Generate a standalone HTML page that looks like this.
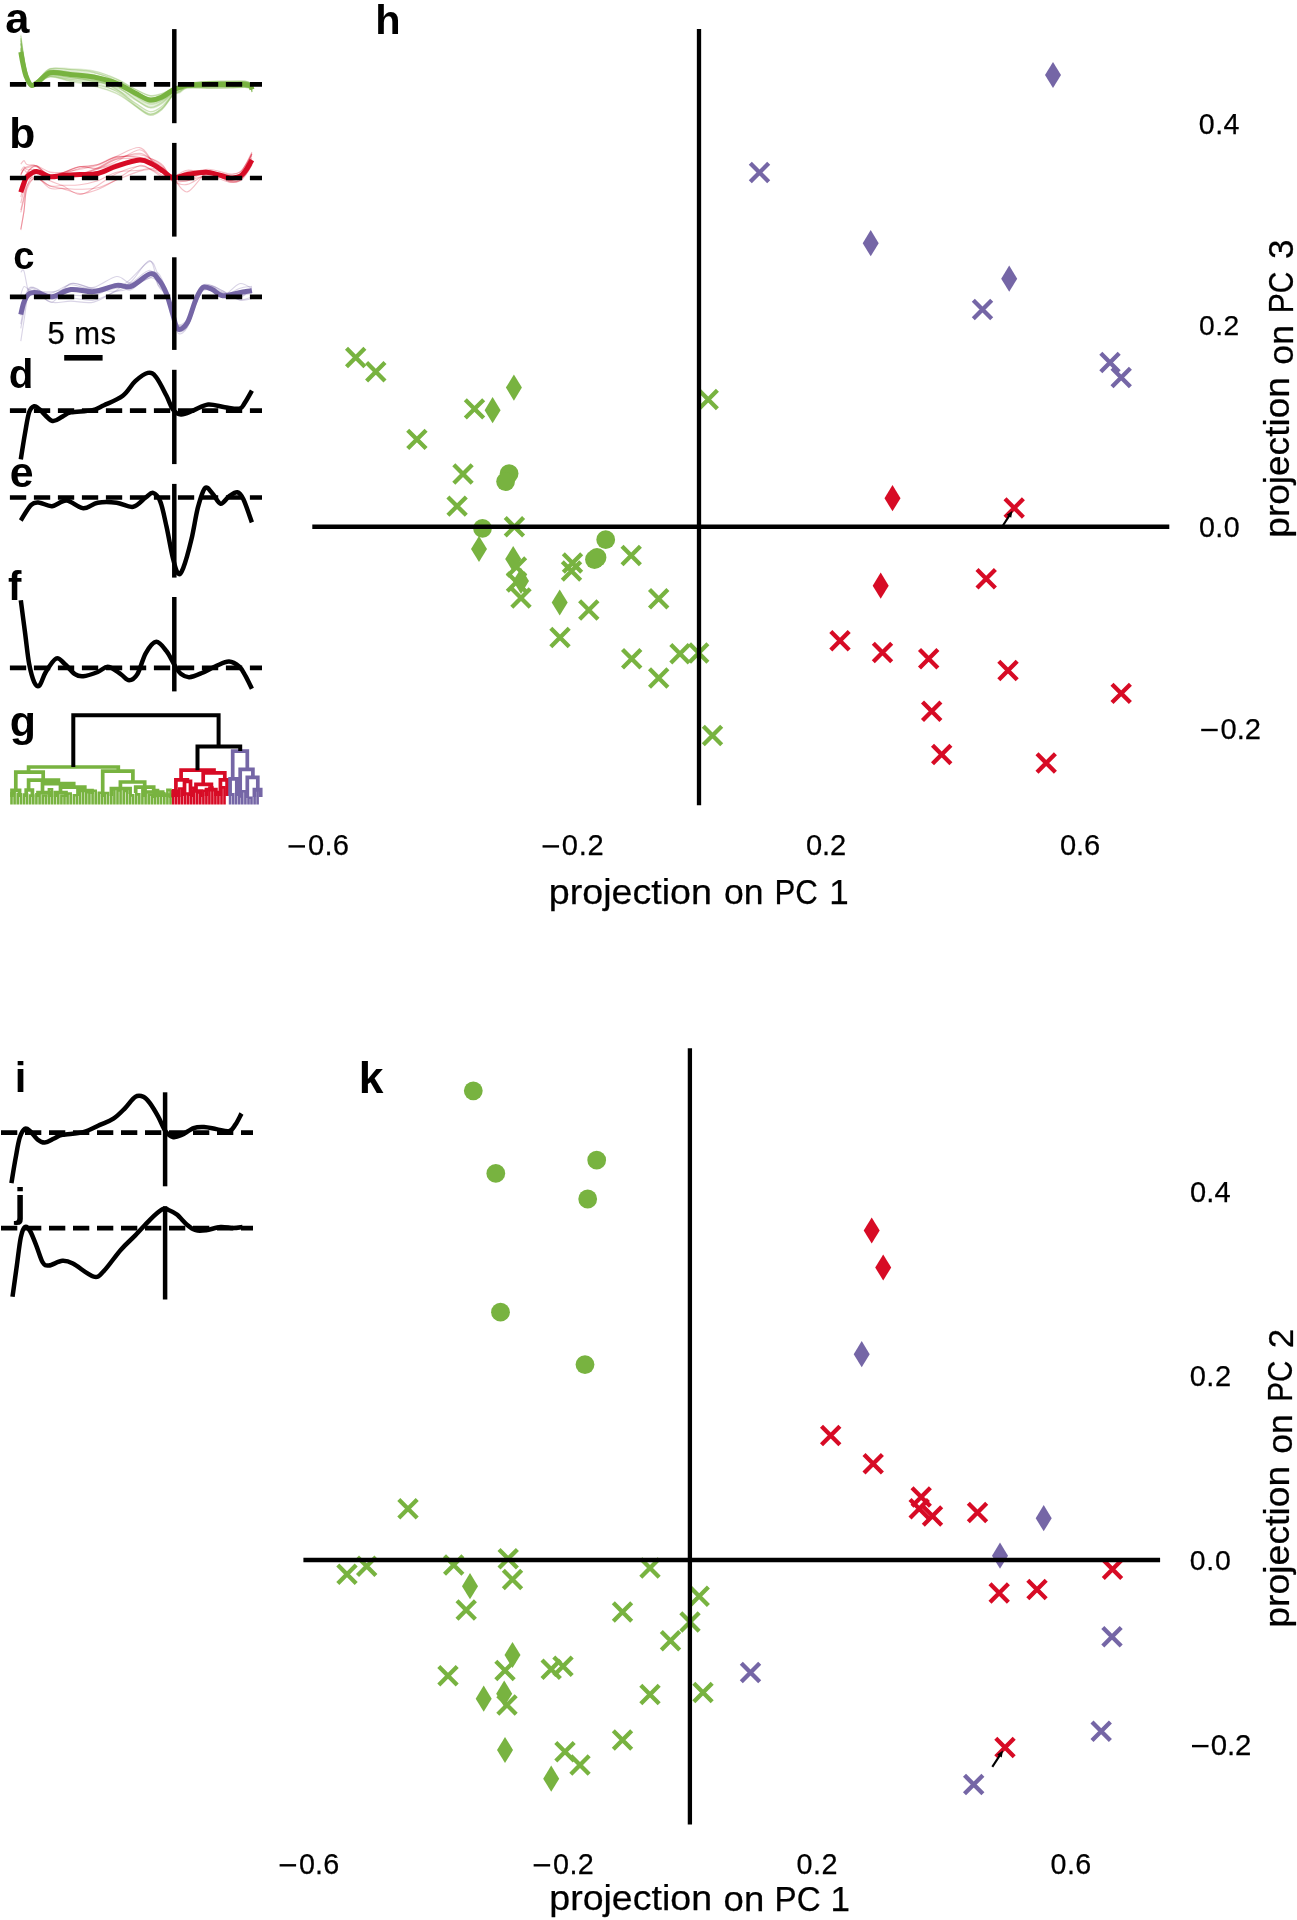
<!DOCTYPE html>
<html><head><meta charset="utf-8"><title>figure</title>
<style>html,body{margin:0;padding:0;background:#fff;}body{width:1297px;height:1920px;overflow:hidden;font-family:"Liberation Sans",sans-serif;}svg{display:block;will-change:transform;}</style>
</head><body>
<svg width="1297" height="1920" viewBox="0 0 1297 1920" font-family="Liberation Sans, sans-serif">
<rect width="1297" height="1920" fill="#fff"/>
<path d="M20.8,53.4 C21.2,55.3 22.1,61.2 23.0,65.0 C23.9,68.8 24.6,73.1 26.0,76.3 C27.4,79.5 29.2,83.7 31.2,84.4 C33.2,85.2 34.9,83.3 38.0,81.0 C41.1,78.7 44.7,72.0 50.0,70.6 C55.3,69.2 62.7,71.8 70.0,72.7 C77.3,73.6 85.9,74.0 93.7,76.2 C101.5,78.4 109.7,82.0 116.6,85.9 C123.5,89.7 129.4,95.6 135.0,99.3 C140.6,103.0 145.5,107.3 150.0,108.0 C154.5,108.8 158.2,106.3 162.0,103.8 C165.8,101.3 169.8,95.3 172.8,93.2 C175.8,91.1 177.6,92.0 180.0,91.1 C182.4,90.2 182.3,88.3 187.3,87.8 C192.3,87.3 202.9,88.2 210.0,88.2 C217.1,88.2 224.2,88.1 230.0,88.0 C235.8,87.9 241.6,87.3 245.0,87.4 C248.4,87.5 249.3,87.9 250.5,88.6 C251.7,89.4 251.8,91.5 252.0,92.1" fill="none" stroke="#78B340" stroke-width="1.2" stroke-opacity="0.22" stroke-linejoin="round"/>
<path d="M20.8,38.7 C21.2,41.2 22.1,48.6 23.0,53.9 C23.9,59.2 24.6,65.1 26.0,70.4 C27.4,75.8 29.2,83.8 31.2,85.9 C33.2,88.0 34.9,84.8 38.0,82.9 C41.1,81.0 44.7,75.5 50.0,74.7 C55.3,73.8 62.7,76.7 70.0,77.8 C77.3,78.9 85.9,79.5 93.7,81.2 C101.5,83.0 109.7,85.1 116.6,88.0 C123.5,90.9 129.4,95.5 135.0,98.6 C140.6,101.6 145.5,105.8 150.0,106.3 C154.5,106.9 158.2,104.3 162.0,101.9 C165.8,99.5 169.8,94.3 172.8,92.0 C175.8,89.7 177.6,89.3 180.0,88.1 C182.4,86.8 182.3,85.3 187.3,84.4 C192.3,83.5 202.9,83.1 210.0,82.8 C217.1,82.5 224.2,82.7 230.0,82.7 C235.8,82.6 241.6,82.3 245.0,82.6 C248.4,82.8 249.3,83.5 250.5,84.4 C251.7,85.3 251.8,87.3 252.0,87.9" fill="none" stroke="#78B340" stroke-width="1.2" stroke-opacity="0.22" stroke-linejoin="round"/>
<path d="M20.8,54.4 C21.2,56.3 22.1,62.1 23.0,65.9 C23.9,69.7 24.6,73.9 26.0,77.3 C27.4,80.6 29.2,85.0 31.2,85.9 C33.2,86.8 34.9,84.7 38.0,82.8 C41.1,80.9 44.7,75.6 50.0,74.6 C55.3,73.6 62.7,76.2 70.0,77.0 C77.3,77.9 85.9,78.5 93.7,79.9 C101.5,81.4 109.7,83.2 116.6,85.8 C123.5,88.3 129.4,92.4 135.0,95.1 C140.6,97.9 145.5,101.6 150.0,102.2 C154.5,102.8 158.2,100.5 162.0,98.6 C165.8,96.6 169.8,92.5 172.8,90.6 C175.8,88.6 177.6,88.1 180.0,87.1 C182.4,86.0 182.3,84.8 187.3,84.1 C192.3,83.4 202.9,82.9 210.0,82.7 C217.1,82.4 224.2,82.6 230.0,82.6 C235.8,82.6 241.6,82.2 245.0,82.5 C248.4,82.8 249.3,83.5 250.5,84.4 C251.7,85.3 251.8,87.3 252.0,87.9" fill="none" stroke="#78B340" stroke-width="1.2" stroke-opacity="0.22" stroke-linejoin="round"/>
<path d="M20.8,50.2 C21.2,52.2 22.1,58.4 23.0,62.5 C23.9,66.6 24.6,71.2 26.0,74.8 C27.4,78.4 29.2,83.2 31.2,84.1 C33.2,85.0 34.9,82.8 38.0,80.4 C41.1,78.0 44.7,71.4 50.0,69.6 C55.3,67.7 62.7,69.3 70.0,69.6 C77.3,69.9 85.9,69.8 93.7,71.4 C101.5,72.9 109.7,75.8 116.6,78.8 C123.5,81.7 129.4,86.4 135.0,89.3 C140.6,92.2 145.5,95.3 150.0,96.2 C154.5,97.0 158.2,95.6 162.0,94.3 C165.8,93.1 169.8,90.2 172.8,88.7 C175.8,87.3 177.6,86.4 180.0,85.4 C182.4,84.5 182.3,83.9 187.3,83.2 C192.3,82.6 202.9,81.9 210.0,81.6 C217.1,81.3 224.2,81.7 230.0,81.7 C235.8,81.7 241.6,81.4 245.0,81.7 C248.4,82.1 249.3,82.8 250.5,83.7 C251.7,84.6 251.8,86.6 252.0,87.2" fill="none" stroke="#78B340" stroke-width="1.2" stroke-opacity="0.22" stroke-linejoin="round"/>
<path d="M20.8,47.4 C21.2,49.6 22.1,56.1 23.0,60.5 C23.9,64.9 24.6,69.8 26.0,74.0 C27.4,78.1 29.2,83.9 31.2,85.2 C33.2,86.6 34.9,84.0 38.0,81.9 C41.1,79.9 44.7,73.9 50.0,72.7 C55.3,71.5 62.7,74.0 70.0,74.8 C77.3,75.7 85.9,76.1 93.7,77.8 C101.5,79.5 109.7,82.1 116.6,85.1 C123.5,88.1 129.4,92.9 135.0,96.0 C140.6,99.1 145.5,102.9 150.0,103.6 C154.5,104.3 158.2,102.0 162.0,99.9 C165.8,97.9 169.8,93.3 172.8,91.2 C175.8,89.2 177.6,88.9 180.0,87.8 C182.4,86.8 182.3,85.4 187.3,84.7 C192.3,84.0 202.9,83.7 210.0,83.5 C217.1,83.3 224.2,83.5 230.0,83.4 C235.8,83.4 241.6,83.0 245.0,83.3 C248.4,83.5 249.3,84.1 250.5,85.0 C251.7,85.9 251.8,87.9 252.0,88.5" fill="none" stroke="#78B340" stroke-width="1.2" stroke-opacity="0.22" stroke-linejoin="round"/>
<path d="M20.8,40.4 C21.2,42.8 22.1,50.1 23.0,55.1 C23.9,60.1 24.6,65.7 26.0,70.6 C27.4,75.5 29.2,82.7 31.2,84.4 C33.2,86.1 34.9,83.2 38.0,80.9 C41.1,78.5 44.7,71.9 50.0,70.4 C55.3,68.9 62.7,71.1 70.0,71.8 C77.3,72.5 85.9,72.8 93.7,74.7 C101.5,76.7 109.7,80.0 116.6,83.5 C123.5,87.0 129.4,92.5 135.0,95.9 C140.6,99.3 145.5,103.2 150.0,103.9 C154.5,104.7 158.2,102.6 162.0,100.5 C165.8,98.5 169.8,93.6 172.8,91.6 C175.8,89.6 177.6,89.4 180.0,88.4 C182.4,87.3 182.3,85.9 187.3,85.2 C192.3,84.5 202.9,84.5 210.0,84.3 C217.1,84.1 224.2,84.2 230.0,84.2 C235.8,84.1 241.6,83.7 245.0,84.0 C248.4,84.2 249.3,84.7 250.5,85.6 C251.7,86.5 251.8,88.5 252.0,89.1" fill="none" stroke="#78B340" stroke-width="1.2" stroke-opacity="0.22" stroke-linejoin="round"/>
<path d="M20.8,48.0 C21.2,50.1 22.1,56.6 23.0,61.0 C23.9,65.4 24.6,70.4 26.0,74.6 C27.4,78.8 29.2,84.8 31.2,86.2 C33.2,87.7 34.9,85.0 38.0,83.2 C41.1,81.4 44.7,76.4 50.0,75.4 C55.3,74.5 62.7,76.8 70.0,77.6 C77.3,78.3 85.9,78.8 93.7,80.0 C101.5,81.1 109.7,82.3 116.6,84.3 C123.5,86.3 129.4,89.7 135.0,92.0 C140.6,94.4 145.5,97.8 150.0,98.4 C154.5,98.9 158.2,96.9 162.0,95.3 C165.8,93.8 169.8,90.6 172.8,89.3 C175.8,88.0 177.6,88.1 180.0,87.5 C182.4,87.0 182.3,86.1 187.3,85.8 C192.3,85.5 202.9,85.8 210.0,85.8 C217.1,85.8 224.2,85.9 230.0,85.8 C235.8,85.8 241.6,85.4 245.0,85.6 C248.4,85.8 249.3,86.2 250.5,87.0 C251.7,87.8 251.8,89.9 252.0,90.5" fill="none" stroke="#78B340" stroke-width="1.2" stroke-opacity="0.22" stroke-linejoin="round"/>
<path d="M20.8,42.9 C21.2,45.2 22.1,52.2 23.0,57.1 C23.9,61.9 24.6,67.3 26.0,72.0 C27.4,76.7 29.2,83.6 31.2,85.3 C33.2,87.0 34.9,84.2 38.0,82.2 C41.1,80.2 44.7,73.9 50.0,73.0 C55.3,72.2 62.7,75.6 70.0,77.0 C77.3,78.4 85.9,79.2 93.7,81.7 C101.5,84.1 109.7,87.6 116.6,91.6 C123.5,95.7 129.4,101.9 135.0,105.9 C140.6,109.9 145.5,114.8 150.0,115.4 C154.5,116.0 158.2,112.8 162.0,109.5 C165.8,106.2 169.8,98.5 172.8,95.4 C175.8,92.4 177.6,92.5 180.0,90.9 C182.4,89.3 182.3,86.8 187.3,85.8 C192.3,84.7 202.9,84.7 210.0,84.4 C217.1,84.1 224.2,84.1 230.0,84.0 C235.8,83.9 241.6,83.4 245.0,83.6 C248.4,83.9 249.3,84.5 250.5,85.3 C251.7,86.2 251.8,88.2 252.0,88.8" fill="none" stroke="#78B340" stroke-width="1.2" stroke-opacity="0.22" stroke-linejoin="round"/>
<path d="M20.8,43.7 C21.2,46.1 22.1,52.9 23.0,57.8 C23.9,62.6 24.6,67.9 26.0,72.6 C27.4,77.3 29.2,84.2 31.2,85.9 C33.2,87.6 34.9,84.7 38.0,82.8 C41.1,81.0 44.7,75.5 50.0,74.6 C55.3,73.7 62.7,76.4 70.0,77.5 C77.3,78.5 85.9,79.1 93.7,80.7 C101.5,82.3 109.7,84.4 116.6,87.2 C123.5,89.9 129.4,94.4 135.0,97.3 C140.6,100.3 145.5,104.3 150.0,104.9 C154.5,105.4 158.2,103.0 162.0,100.7 C165.8,98.5 169.8,93.7 172.8,91.4 C175.8,89.2 177.6,88.4 180.0,87.1 C182.4,85.7 182.3,84.4 187.3,83.4 C192.3,82.5 202.9,81.7 210.0,81.3 C217.1,81.0 224.2,81.2 230.0,81.2 C235.8,81.2 241.6,80.9 245.0,81.2 C248.4,81.5 249.3,82.3 250.5,83.2 C251.7,84.1 251.8,86.1 252.0,86.7" fill="none" stroke="#78B340" stroke-width="1.2" stroke-opacity="0.22" stroke-linejoin="round"/>
<path d="M20.8,48.8 C21.2,50.9 22.1,57.3 23.0,61.5 C23.9,65.8 24.6,70.6 26.0,74.5 C27.4,78.4 29.2,83.7 31.2,84.9 C33.2,86.1 34.9,83.8 38.0,81.6 C41.1,79.4 44.7,73.1 50.0,71.9 C55.3,70.7 62.7,73.3 70.0,74.3 C77.3,75.3 85.9,75.7 93.7,77.8 C101.5,79.8 109.7,82.9 116.6,86.4 C123.5,89.9 129.4,95.4 135.0,98.9 C140.6,102.4 145.5,106.6 150.0,107.3 C154.5,107.9 158.2,105.5 162.0,103.0 C165.8,100.6 169.8,95.0 172.8,92.5 C175.8,90.0 177.6,89.3 180.0,87.8 C182.4,86.4 182.3,84.7 187.3,83.7 C192.3,82.6 202.9,81.9 210.0,81.5 C217.1,81.2 224.2,81.4 230.0,81.4 C235.8,81.3 241.6,81.0 245.0,81.3 C248.4,81.6 249.3,82.4 250.5,83.3 C251.7,84.2 251.8,86.2 252.0,86.8" fill="none" stroke="#78B340" stroke-width="1.2" stroke-opacity="0.22" stroke-linejoin="round"/>
<path d="M20.8,34.7 C21.2,37.4 22.1,45.2 23.0,50.9 C23.9,56.5 24.6,62.8 26.0,68.5 C27.4,74.2 29.2,83.1 31.2,85.3 C33.2,87.5 34.9,84.0 38.0,81.9 C41.1,79.9 44.7,74.2 50.0,72.9 C55.3,71.5 62.7,73.3 70.0,73.8 C77.3,74.2 85.9,74.4 93.7,75.6 C101.5,76.8 109.7,78.6 116.6,80.9 C123.5,83.1 129.4,86.8 135.0,89.2 C140.6,91.7 145.5,94.8 150.0,95.5 C154.5,96.2 158.2,94.6 162.0,93.4 C165.8,92.1 169.8,89.6 172.8,88.3 C175.8,86.9 177.6,86.1 180.0,85.3 C182.4,84.5 182.3,84.0 187.3,83.4 C192.3,82.9 202.9,82.2 210.0,82.0 C217.1,81.8 224.2,82.1 230.0,82.1 C235.8,82.1 241.6,81.8 245.0,82.1 C248.4,82.5 249.3,83.1 250.5,84.0 C251.7,84.9 251.8,87.0 252.0,87.6" fill="none" stroke="#78B340" stroke-width="1.2" stroke-opacity="0.22" stroke-linejoin="round"/>
<path d="M20.8,48.4 C21.2,50.5 22.1,56.9 23.0,61.1 C23.9,65.4 24.6,70.1 26.0,73.9 C27.4,77.6 29.2,82.7 31.2,83.8 C33.2,84.8 34.9,82.5 38.0,80.0 C41.1,77.5 44.7,70.5 50.0,68.6 C55.3,66.7 62.7,68.3 70.0,68.7 C77.3,69.0 85.9,69.0 93.7,70.8 C101.5,72.5 109.7,75.9 116.6,79.3 C123.5,82.7 129.4,87.8 135.0,91.0 C140.6,94.2 145.5,97.6 150.0,98.5 C154.5,99.4 158.2,97.8 162.0,96.3 C165.8,94.8 169.8,91.3 172.8,89.7 C175.8,88.0 177.6,87.3 180.0,86.3 C182.4,85.3 182.3,84.4 187.3,83.7 C192.3,83.0 202.9,82.4 210.0,82.1 C217.1,81.9 224.2,82.1 230.0,82.1 C235.8,82.1 241.6,81.8 245.0,82.1 C248.4,82.4 249.3,83.1 250.5,84.0 C251.7,84.9 251.8,87.0 252.0,87.5" fill="none" stroke="#78B340" stroke-width="1.2" stroke-opacity="0.22" stroke-linejoin="round"/>
<path d="M20.8,44.0 C21.2,46.3 22.1,53.1 23.0,57.9 C23.9,62.6 24.6,67.9 26.0,72.4 C27.4,77.0 29.2,83.5 31.2,85.1 C33.2,86.7 34.9,84.0 38.0,81.9 C41.1,79.8 44.7,73.5 50.0,72.4 C55.3,71.4 62.7,74.4 70.0,75.7 C77.3,76.9 85.9,77.5 93.7,79.8 C101.5,82.1 109.7,85.4 116.6,89.2 C123.5,93.1 129.4,99.0 135.0,102.8 C140.6,106.5 145.5,111.1 150.0,111.8 C154.5,112.4 158.2,109.5 162.0,106.6 C165.8,103.7 169.8,96.9 172.8,94.3 C175.8,91.7 177.6,92.2 180.0,90.9 C182.4,89.6 182.3,87.5 187.3,86.7 C192.3,85.9 202.9,86.3 210.0,86.1 C217.1,86.0 224.2,86.0 230.0,85.8 C235.8,85.7 241.6,85.2 245.0,85.4 C248.4,85.6 249.3,86.0 250.5,86.9 C251.7,87.7 251.8,89.8 252.0,90.4" fill="none" stroke="#78B340" stroke-width="1.2" stroke-opacity="0.22" stroke-linejoin="round"/>
<path d="M20.8,52.3 C21.2,54.3 22.1,60.2 23.0,64.3 C23.9,68.4 24.6,72.9 26.0,76.6 C27.4,80.3 29.2,85.4 31.2,86.7 C33.2,87.9 34.9,85.5 38.0,83.8 C41.1,82.2 44.7,77.2 50.0,76.7 C55.3,76.2 62.7,79.3 70.0,80.6 C77.3,81.8 85.9,82.7 93.7,84.3 C101.5,85.9 109.7,87.5 116.6,90.1 C123.5,92.7 129.4,97.0 135.0,99.9 C140.6,102.7 145.5,107.0 150.0,107.5 C154.5,107.9 158.2,105.1 162.0,102.6 C165.8,100.0 169.8,94.6 172.8,92.3 C175.8,90.0 177.6,89.8 180.0,88.5 C182.4,87.3 182.3,85.7 187.3,84.9 C192.3,84.0 202.9,83.8 210.0,83.5 C217.1,83.3 224.2,83.4 230.0,83.4 C235.8,83.3 241.6,82.9 245.0,83.2 C248.4,83.4 249.3,84.1 250.5,84.9 C251.7,85.8 251.8,87.9 252.0,88.4" fill="none" stroke="#78B340" stroke-width="1.2" stroke-opacity="0.22" stroke-linejoin="round"/>
<path d="M20.8,35.8 C21.2,38.4 22.1,46.1 23.0,51.7 C23.9,57.3 24.6,63.5 26.0,69.2 C27.4,75.0 29.2,83.8 31.2,86.1 C33.2,88.5 34.9,85.0 38.0,83.2 C41.1,81.4 44.7,76.0 50.0,75.3 C55.3,74.7 62.7,78.0 70.0,79.4 C77.3,80.8 85.9,81.6 93.7,83.6 C101.5,85.6 109.7,88.0 116.6,91.3 C123.5,94.5 129.4,99.7 135.0,103.0 C140.6,106.4 145.5,111.0 150.0,111.5 C154.5,112.0 158.2,109.0 162.0,106.1 C165.8,103.1 169.8,96.7 172.8,93.8 C175.8,90.9 177.6,90.3 180.0,88.7 C182.4,87.0 182.3,85.0 187.3,83.9 C192.3,82.7 202.9,82.0 210.0,81.6 C217.1,81.1 224.2,81.4 230.0,81.3 C235.8,81.2 241.6,80.9 245.0,81.2 C248.4,81.5 249.3,82.3 250.5,83.2 C251.7,84.1 251.8,86.1 252.0,86.7" fill="none" stroke="#78B340" stroke-width="1.2" stroke-opacity="0.22" stroke-linejoin="round"/>
<path d="M20.8,52.4 C21.2,54.4 22.1,60.3 23.0,64.2 C23.9,68.2 24.6,72.5 26.0,75.9 C27.4,79.3 29.2,83.7 31.2,84.6 C33.2,85.4 34.9,83.3 38.0,81.0 C41.1,78.7 44.7,72.5 50.0,70.9 C55.3,69.2 62.7,70.9 70.0,71.2 C77.3,71.6 85.9,71.6 93.7,73.0 C101.5,74.4 109.7,76.8 116.6,79.4 C123.5,82.1 129.4,86.3 135.0,89.0 C140.6,91.7 145.5,94.8 150.0,95.6 C154.5,96.4 158.2,94.8 162.0,93.7 C165.8,92.5 169.8,89.7 172.8,88.7 C175.8,87.8 177.6,88.2 180.0,87.9 C182.4,87.6 182.3,86.9 187.3,86.8 C192.3,86.8 202.9,87.4 210.0,87.6 C217.1,87.7 224.2,87.7 230.0,87.7 C235.8,87.6 241.6,87.1 245.0,87.3 C248.4,87.4 249.3,87.7 250.5,88.5 C251.7,89.3 251.8,91.4 252.0,92.0" fill="none" stroke="#78B340" stroke-width="1.2" stroke-opacity="0.22" stroke-linejoin="round"/>
<path d="M20.8,50.3 C21.2,52.3 22.1,58.5 23.0,62.6 C23.9,66.7 24.6,71.3 26.0,74.9 C27.4,78.5 29.2,83.3 31.2,84.4 C33.2,85.4 34.9,83.3 38.0,81.0 C41.1,78.6 44.7,71.7 50.0,70.4 C55.3,69.1 62.7,72.1 70.0,73.3 C77.3,74.6 85.9,75.1 93.7,77.7 C101.5,80.3 109.7,84.4 116.6,88.8 C123.5,93.3 129.4,100.0 135.0,104.2 C140.6,108.3 145.5,113.1 150.0,113.8 C154.5,114.6 158.2,111.7 162.0,108.5 C165.8,105.4 169.8,98.0 172.8,95.2 C175.8,92.4 177.6,93.0 180.0,91.7 C182.4,90.3 182.3,87.9 187.3,87.1 C192.3,86.2 202.9,86.7 210.0,86.6 C217.1,86.5 224.2,86.4 230.0,86.2 C235.8,86.1 241.6,85.6 245.0,85.8 C248.4,85.9 249.3,86.3 250.5,87.2 C251.7,88.0 251.8,90.1 252.0,90.7" fill="none" stroke="#78B340" stroke-width="1.2" stroke-opacity="0.22" stroke-linejoin="round"/>
<path d="M20.8,37.8 C21.2,40.3 22.1,47.8 23.0,53.2 C23.9,58.7 24.6,64.7 26.0,70.2 C27.4,75.8 29.2,84.3 31.2,86.6 C33.2,88.8 34.9,85.5 38.0,83.8 C41.1,82.1 44.7,77.0 50.0,76.6 C55.3,76.2 62.7,79.9 70.0,81.5 C77.3,83.1 85.9,84.1 93.7,86.2 C101.5,88.2 109.7,90.5 116.6,93.8 C123.5,97.0 129.4,102.3 135.0,105.7 C140.6,109.2 145.5,114.1 150.0,114.5 C154.5,114.9 158.2,111.6 162.0,108.3 C165.8,105.0 169.8,97.9 172.8,94.8 C175.8,91.7 177.6,91.4 180.0,89.7 C182.4,88.0 182.3,85.8 187.3,84.6 C192.3,83.4 202.9,83.0 210.0,82.6 C217.1,82.2 224.2,82.4 230.0,82.3 C235.8,82.2 241.6,81.8 245.0,82.1 C248.4,82.4 249.3,83.1 250.5,84.0 C251.7,84.9 251.8,86.9 252.0,87.5" fill="none" stroke="#78B340" stroke-width="1.2" stroke-opacity="0.22" stroke-linejoin="round"/>
<path d="M20.8,43.4 C21.2,45.7 22.1,52.6 23.0,57.5 C23.9,62.4 24.6,67.8 26.0,72.6 C27.4,77.4 29.2,84.6 31.2,86.4 C33.2,88.2 34.9,85.3 38.0,83.6 C41.1,81.8 44.7,76.5 50.0,76.0 C55.3,75.5 62.7,79.1 70.0,80.7 C77.3,82.2 85.9,83.2 93.7,85.3 C101.5,87.4 109.7,89.8 116.6,93.1 C123.5,96.4 129.4,101.7 135.0,105.2 C140.6,108.7 145.5,113.6 150.0,114.0 C154.5,114.5 158.2,111.1 162.0,108.0 C165.8,104.8 169.8,97.6 172.8,94.9 C175.8,92.2 177.6,93.2 180.0,92.0 C182.4,90.8 182.3,88.5 187.3,87.8 C192.3,87.1 202.9,87.9 210.0,87.9 C217.1,87.8 224.2,87.7 230.0,87.5 C235.8,87.4 241.6,86.9 245.0,87.0 C248.4,87.1 249.3,87.4 250.5,88.2 C251.7,89.0 251.8,91.1 252.0,91.7" fill="none" stroke="#78B340" stroke-width="1.2" stroke-opacity="0.22" stroke-linejoin="round"/>
<path d="M20.8,52.6 C21.2,54.5 22.1,60.5 23.0,64.4 C23.9,68.3 24.6,72.6 26.0,75.9 C27.4,79.3 29.2,83.6 31.2,84.5 C33.2,85.3 34.9,83.4 38.0,81.1 C41.1,78.8 44.7,71.9 50.0,70.7 C55.3,69.5 62.7,72.6 70.0,73.9 C77.3,75.2 85.9,75.8 93.7,78.4 C101.5,81.1 109.7,85.2 116.6,89.7 C123.5,94.2 129.4,101.0 135.0,105.2 C140.6,109.5 145.5,114.4 150.0,115.1 C154.5,115.8 158.2,112.7 162.0,109.5 C165.8,106.3 169.8,98.5 172.8,95.7 C175.8,92.9 177.6,94.0 180.0,92.8 C182.4,91.5 182.3,89.0 187.3,88.2 C192.3,87.5 202.9,88.4 210.0,88.4 C217.1,88.4 224.2,88.2 230.0,88.0 C235.8,87.9 241.6,87.3 245.0,87.4 C248.4,87.5 249.3,87.8 250.5,88.6 C251.7,89.4 251.8,91.5 252.0,92.1" fill="none" stroke="#78B340" stroke-width="1.2" stroke-opacity="0.22" stroke-linejoin="round"/>
<path d="M20.8,48.5 C21.2,50.6 22.1,57.0 23.0,61.2 C23.9,65.5 24.6,70.2 26.0,74.0 C27.4,77.7 29.2,82.8 31.2,83.9 C33.2,84.9 34.9,82.7 38.0,80.2 C41.1,77.7 44.7,70.7 50.0,68.9 C55.3,67.2 62.7,69.1 70.0,69.7 C77.3,70.2 85.9,70.3 93.7,72.3 C101.5,74.2 109.7,77.8 116.6,81.5 C123.5,85.1 129.4,90.7 135.0,94.1 C140.6,97.6 145.5,101.3 150.0,102.1 C154.5,103.0 158.2,101.1 162.0,99.2 C165.8,97.4 169.8,92.9 172.8,91.1 C175.8,89.3 177.6,89.3 180.0,88.4 C182.4,87.5 182.3,86.2 187.3,85.6 C192.3,85.1 202.9,85.2 210.0,85.1 C217.1,85.0 224.2,85.0 230.0,85.0 C235.8,84.9 241.6,84.5 245.0,84.7 C248.4,84.9 249.3,85.4 250.5,86.3 C251.7,87.1 251.8,89.2 252.0,89.8" fill="none" stroke="#78B340" stroke-width="1.2" stroke-opacity="0.22" stroke-linejoin="round"/>
<path d="M20.8,51.3 C21.2,53.3 22.1,59.4 23.0,63.4 C23.9,67.4 24.6,71.8 26.0,75.2 C27.4,78.6 29.2,83.0 31.2,83.8 C33.2,84.7 34.9,82.7 38.0,80.2 C41.1,77.7 44.7,70.6 50.0,68.9 C55.3,67.1 62.7,69.0 70.0,69.6 C77.3,70.2 85.9,70.3 93.7,72.3 C101.5,74.2 109.7,77.9 116.6,81.6 C123.5,85.3 129.4,90.9 135.0,94.3 C140.6,97.8 145.5,101.5 150.0,102.4 C154.5,103.2 158.2,101.3 162.0,99.5 C165.8,97.6 169.8,93.1 172.8,91.1 C175.8,89.1 177.6,88.7 180.0,87.6 C182.4,86.5 182.3,85.2 187.3,84.5 C192.3,83.7 202.9,83.4 210.0,83.2 C217.1,82.9 224.2,83.1 230.0,83.1 C235.8,83.1 241.6,82.7 245.0,83.0 C248.4,83.2 249.3,83.9 250.5,84.7 C251.7,85.6 251.8,87.7 252.0,88.3" fill="none" stroke="#78B340" stroke-width="1.2" stroke-opacity="0.22" stroke-linejoin="round"/>
<path d="M20.8,38.3 C21.2,40.9 22.1,48.3 23.0,53.7 C23.9,59.0 24.6,65.0 26.0,70.5 C27.4,76.0 29.2,84.4 31.2,86.6 C33.2,88.8 34.9,85.3 38.0,83.6 C41.1,81.9 44.7,77.2 50.0,76.5 C55.3,75.7 62.7,78.0 70.0,78.8 C77.3,79.6 85.9,80.2 93.7,81.2 C101.5,82.3 109.7,83.1 116.6,84.9 C123.5,86.7 129.4,89.8 135.0,92.0 C140.6,94.2 145.5,97.6 150.0,98.1 C154.5,98.6 158.2,96.5 162.0,95.0 C165.8,93.5 169.8,90.5 172.8,89.0 C175.8,87.5 177.6,86.9 180.0,86.1 C182.4,85.2 182.3,84.5 187.3,84.0 C192.3,83.4 202.9,82.9 210.0,82.7 C217.1,82.6 224.2,82.8 230.0,82.8 C235.8,82.8 241.6,82.5 245.0,82.8 C248.4,83.1 249.3,83.7 250.5,84.6 C251.7,85.5 251.8,87.5 252.0,88.1" fill="none" stroke="#78B340" stroke-width="1.2" stroke-opacity="0.22" stroke-linejoin="round"/>
<path d="M20.8,40.7 C21.2,43.2 22.1,50.4 23.0,55.5 C23.9,60.7 24.6,66.4 26.0,71.6 C27.4,76.8 29.2,84.7 31.2,86.8 C33.2,88.8 34.9,85.5 38.0,83.8 C41.1,82.2 44.7,77.6 50.0,76.9 C55.3,76.2 62.7,78.7 70.0,79.5 C77.3,80.4 85.9,81.0 93.7,82.0 C101.5,83.0 109.7,83.8 116.6,85.6 C123.5,87.3 129.4,90.4 135.0,92.6 C140.6,94.8 145.5,98.2 150.0,98.7 C154.5,99.2 158.2,97.0 162.0,95.4 C165.8,93.9 169.8,90.6 172.8,89.4 C175.8,88.2 177.6,88.7 180.0,88.2 C182.4,87.8 182.3,86.9 187.3,86.8 C192.3,86.6 202.9,87.2 210.0,87.3 C217.1,87.4 224.2,87.4 230.0,87.4 C235.8,87.3 241.6,86.8 245.0,87.0 C248.4,87.1 249.3,87.5 250.5,88.3 C251.7,89.1 251.8,91.2 252.0,91.7" fill="none" stroke="#78B340" stroke-width="1.2" stroke-opacity="0.22" stroke-linejoin="round"/>
<path d="M20.8,52.0 C21.2,54.0 22.1,60.0 23.0,64.0 C23.9,68.0 24.6,72.5 26.0,76.0 C27.4,79.5 29.2,84.3 31.2,85.3 C33.2,86.3 34.9,84.1 38.0,82.0 C41.1,79.9 44.7,74.2 50.0,72.9 C55.3,71.7 62.7,73.8 70.0,74.5 C77.3,75.2 85.9,75.5 93.7,77.0 C101.5,78.5 109.7,80.6 116.6,83.3 C123.5,86.0 129.4,90.2 135.0,93.0 C140.6,95.8 145.5,99.3 150.0,100.0 C154.5,100.7 158.2,98.7 162.0,97.0 C165.8,95.3 169.8,91.6 172.8,90.0 C175.8,88.4 177.6,88.3 180.0,87.5 C182.4,86.7 182.3,85.7 187.3,85.2 C192.3,84.7 202.9,84.7 210.0,84.6 C217.1,84.5 224.2,84.6 230.0,84.6 C235.8,84.6 241.6,84.2 245.0,84.4 C248.4,84.6 249.3,85.2 250.5,86.0 C251.7,86.8 251.8,88.9 252.0,89.5" fill="none" stroke="#78B340" stroke-width="5.0" stroke-opacity="1.00" stroke-linejoin="round"/>
<line x1="9.9" y1="84.3" x2="262.0" y2="84.3" stroke="#000" stroke-width="4.7" stroke-dasharray="16.3 7.7"/>
<line x1="174.3" y1="29.1" x2="174.3" y2="123.2" stroke="#000" stroke-width="4.5"/>
<path d="M20.8,173.7 C21.3,173.1 23.0,169.8 24.0,169.6 C25.0,169.4 24.9,172.1 27.0,172.4 C29.1,172.6 32.6,170.8 36.4,171.2 C40.2,171.7 45.7,174.7 50.0,174.9 C54.3,175.2 57.4,173.6 62.4,172.6 C67.4,171.7 74.1,170.5 80.0,169.3 C85.9,168.1 91.7,167.3 97.8,165.3 C103.9,163.3 109.6,158.5 116.6,157.1 C123.5,155.8 133.6,156.3 139.5,157.3 C145.4,158.3 148.1,160.8 152.0,163.1 C155.9,165.4 159.5,168.6 163.0,171.1 C166.5,173.7 168.8,177.8 172.8,178.3 C176.9,178.7 181.4,175.5 187.3,174.0 C193.2,172.5 201.2,169.3 208.2,169.3 C215.1,169.3 223.8,173.3 229.0,173.8 C234.2,174.3 236.6,173.9 239.4,172.3 C242.2,170.7 243.9,167.6 246.0,164.5 C248.1,161.5 250.9,155.7 251.9,153.9" fill="none" stroke="#D70B25" stroke-width="1.1" stroke-opacity="0.26" stroke-linejoin="round"/>
<path d="M20.8,203.2 C21.3,200.8 23.0,194.0 24.0,189.1 C25.0,184.2 24.9,177.7 27.0,173.8 C29.1,169.9 32.6,165.4 36.4,165.9 C40.2,166.3 45.7,175.4 50.0,176.5 C54.3,177.7 57.4,174.4 62.4,172.8 C67.4,171.1 74.1,168.2 80.0,166.8 C85.9,165.5 91.7,166.3 97.8,164.5 C103.9,162.8 109.6,159.1 116.6,156.2 C123.5,153.4 133.6,146.8 139.5,147.6 C145.4,148.3 148.1,156.4 152.0,160.6 C155.9,164.9 159.5,169.8 163.0,172.9 C166.5,176.1 168.8,178.7 172.8,179.4 C176.9,180.1 181.4,178.5 187.3,177.3 C193.2,176.1 201.2,172.8 208.2,172.4 C215.1,171.9 223.8,174.5 229.0,174.5 C234.2,174.5 236.6,174.1 239.4,172.4 C242.2,170.7 243.9,167.3 246.0,164.1 C248.1,160.9 250.9,155.1 251.9,153.3" fill="none" stroke="#D70B25" stroke-width="1.1" stroke-opacity="0.26" stroke-linejoin="round"/>
<path d="M20.8,197.0 C21.3,195.0 23.0,188.8 24.0,184.7 C25.0,180.7 24.9,175.7 27.0,172.7 C29.1,169.7 32.6,165.8 36.4,166.7 C40.2,167.6 45.7,176.9 50.0,178.1 C54.3,179.4 57.4,175.9 62.4,174.3 C67.4,172.6 74.1,169.8 80.0,168.2 C85.9,166.6 91.7,166.4 97.8,164.5 C103.9,162.6 109.6,157.8 116.6,156.6 C123.5,155.5 133.6,157.2 139.5,157.6 C145.4,158.0 148.1,157.7 152.0,159.0 C155.9,160.3 159.5,161.9 163.0,165.4 C166.5,169.0 168.8,179.0 172.8,180.3 C176.9,181.7 181.4,175.0 187.3,173.6 C193.2,172.2 201.2,171.3 208.2,171.8 C215.1,172.3 223.8,176.0 229.0,176.5 C234.2,177.0 236.6,176.5 239.4,174.9 C242.2,173.2 243.9,169.8 246.0,166.6 C248.1,163.4 250.9,157.6 251.9,155.8" fill="none" stroke="#D70B25" stroke-width="1.1" stroke-opacity="0.26" stroke-linejoin="round"/>
<path d="M20.8,175.3 C21.3,174.2 23.0,170.0 24.0,168.6 C25.0,167.2 24.9,167.3 27.0,166.8 C29.1,166.3 32.6,164.0 36.4,165.8 C40.2,167.5 45.7,176.0 50.0,177.3 C54.3,178.5 57.4,175.0 62.4,173.2 C67.4,171.5 74.1,167.7 80.0,166.8 C85.9,166.0 91.7,169.0 97.8,168.1 C103.9,167.2 109.6,164.4 116.6,161.3 C123.5,158.3 133.6,149.8 139.5,149.7 C145.4,149.7 148.1,157.4 152.0,161.3 C155.9,165.1 159.5,169.6 163.0,172.8 C166.5,175.9 168.8,179.6 172.8,180.2 C176.9,180.8 181.4,177.4 187.3,176.3 C193.2,175.2 201.2,173.2 208.2,173.5 C215.1,173.9 223.8,177.8 229.0,178.4 C234.2,179.0 236.6,178.5 239.4,177.1 C242.2,175.7 243.9,172.8 246.0,169.9 C248.1,167.0 250.9,161.4 251.9,159.7" fill="none" stroke="#D70B25" stroke-width="1.1" stroke-opacity="0.26" stroke-linejoin="round"/>
<path d="M20.8,170.8 C21.3,170.1 23.0,166.9 24.0,166.7 C25.0,166.6 24.9,169.2 27.0,169.7 C29.1,170.2 32.6,168.5 36.4,169.7 C40.2,170.9 45.7,176.3 50.0,176.9 C54.3,177.4 57.4,174.6 62.4,172.9 C67.4,171.1 74.1,167.2 80.0,166.5 C85.9,165.8 91.7,169.4 97.8,168.9 C103.9,168.4 109.6,165.3 116.6,163.6 C123.5,161.8 133.6,158.9 139.5,158.5 C145.4,158.1 148.1,159.6 152.0,161.1 C155.9,162.6 159.5,164.8 163.0,167.6 C166.5,170.3 168.8,176.5 172.8,177.5 C176.9,178.5 181.4,174.7 187.3,173.5 C193.2,172.4 201.2,169.3 208.2,170.5 C215.1,171.7 223.8,179.4 229.0,180.9 C234.2,182.3 236.6,181.4 239.4,179.0 C242.2,176.7 243.9,171.0 246.0,166.9 C248.1,162.8 250.9,156.3 251.9,154.2" fill="none" stroke="#D70B25" stroke-width="1.1" stroke-opacity="0.26" stroke-linejoin="round"/>
<path d="M20.8,164.1 C21.3,163.5 23.0,160.5 24.0,160.6 C25.0,160.7 24.9,163.7 27.0,164.6 C29.1,165.5 32.6,164.1 36.4,165.9 C40.2,167.8 45.7,174.3 50.0,175.8 C54.3,177.3 57.4,175.3 62.4,175.1 C67.4,174.8 74.1,175.4 80.0,174.4 C85.9,173.4 91.7,171.5 97.8,168.9 C103.9,166.4 109.6,161.8 116.6,159.2 C123.5,156.6 133.6,153.2 139.5,153.4 C145.4,153.5 148.1,157.4 152.0,160.1 C155.9,162.7 159.5,165.8 163.0,169.0 C166.5,172.3 168.8,179.0 172.8,179.4 C176.9,179.9 181.4,172.8 187.3,171.6 C193.2,170.4 201.2,171.1 208.2,172.2 C215.1,173.3 223.8,177.3 229.0,178.1 C234.2,178.8 236.6,178.2 239.4,176.7 C242.2,175.1 243.9,171.8 246.0,168.7 C248.1,165.5 250.9,159.7 251.9,158.0" fill="none" stroke="#D70B25" stroke-width="1.1" stroke-opacity="0.26" stroke-linejoin="round"/>
<path d="M20.8,174.8 C21.3,173.8 23.0,169.9 24.0,168.7 C25.0,167.6 24.9,168.4 27.0,167.9 C29.1,167.4 32.6,165.1 36.4,165.8 C40.2,166.5 45.7,171.0 50.0,172.1 C54.3,173.2 57.4,172.2 62.4,172.5 C67.4,172.7 74.1,174.6 80.0,173.8 C85.9,173.0 91.7,170.4 97.8,167.7 C103.9,165.1 109.6,160.2 116.6,158.0 C123.5,155.9 133.6,154.6 139.5,154.7 C145.4,154.9 148.1,157.1 152.0,159.1 C155.9,161.0 159.5,163.6 163.0,166.5 C166.5,169.4 168.8,175.6 172.8,176.2 C176.9,176.8 181.4,170.6 187.3,170.2 C193.2,169.8 201.2,172.2 208.2,173.8 C215.1,175.4 223.8,179.2 229.0,179.8 C234.2,180.4 236.6,179.8 239.4,177.5 C242.2,175.3 243.9,170.2 246.0,166.3 C248.1,162.4 250.9,156.0 251.9,154.0" fill="none" stroke="#D70B25" stroke-width="1.1" stroke-opacity="0.26" stroke-linejoin="round"/>
<path d="M20.8,210.0 C21.3,207.7 23.0,200.9 24.0,196.0 C25.0,191.2 24.9,185.0 27.0,181.0 C29.1,176.9 32.6,172.3 36.4,171.7 C40.2,171.2 45.7,176.9 50.0,177.6 C54.3,178.3 57.4,176.7 62.4,176.1 C67.4,175.5 74.1,175.4 80.0,174.1 C85.9,172.8 91.7,170.7 97.8,168.2 C103.9,165.7 109.6,160.5 116.6,159.1 C123.5,157.7 133.6,158.8 139.5,159.8 C145.4,160.8 148.1,162.9 152.0,165.1 C155.9,167.2 159.5,170.3 163.0,172.5 C166.5,174.8 168.8,177.8 172.8,178.7 C176.9,179.5 181.4,178.6 187.3,177.4 C193.2,176.2 201.2,171.5 208.2,171.4 C215.1,171.3 223.8,176.2 229.0,176.7 C234.2,177.2 236.6,176.6 239.4,174.5 C242.2,172.4 243.9,167.7 246.0,163.9 C248.1,160.2 250.9,153.9 251.9,152.0" fill="none" stroke="#D70B25" stroke-width="1.1" stroke-opacity="0.26" stroke-linejoin="round"/>
<path d="M20.8,230.1 C21.3,226.9 23.0,218.2 24.0,210.9 C25.0,203.6 24.9,192.7 27.0,186.3 C29.1,180.0 32.6,173.9 36.4,173.0 C40.2,172.1 45.7,178.7 50.0,180.8 C54.3,182.9 57.4,183.3 62.4,185.6 C67.4,187.8 74.1,194.5 80.0,194.5 C85.9,194.5 91.7,188.9 97.8,185.4 C103.9,181.9 109.6,176.7 116.6,173.5 C123.5,170.3 133.6,166.8 139.5,166.2 C145.4,165.6 148.1,168.1 152.0,169.7 C155.9,171.2 159.5,174.2 163.0,175.6 C166.5,176.9 168.8,175.1 172.8,177.8 C176.9,180.5 181.4,192.8 187.3,191.9 C193.2,191.0 201.2,174.0 208.2,172.3 C215.1,170.6 223.8,180.3 229.0,181.7 C234.2,183.1 236.6,182.3 239.4,180.5 C242.2,178.8 243.9,174.6 246.0,171.2 C248.1,167.7 250.9,161.7 251.9,159.8" fill="none" stroke="#D70B25" stroke-width="1.1" stroke-opacity="0.26" stroke-linejoin="round"/>
<path d="M20.8,212.3 C21.3,210.1 23.0,203.6 24.0,199.2 C25.0,194.7 24.9,189.2 27.0,185.7 C29.1,182.1 32.6,177.8 36.4,177.9 C40.2,178.0 45.7,184.3 50.0,186.1 C54.3,187.9 57.4,187.3 62.4,188.6 C67.4,189.8 74.1,193.4 80.0,193.6 C85.9,193.7 91.7,191.8 97.8,189.4 C103.9,187.1 109.6,183.5 116.6,179.5 C123.5,175.5 133.6,167.0 139.5,165.5 C145.4,164.1 148.1,168.6 152.0,170.6 C155.9,172.5 159.5,175.9 163.0,177.4 C166.5,178.8 168.8,178.7 172.8,179.2 C176.9,179.8 181.4,181.8 187.3,180.6 C193.2,179.3 201.2,171.7 208.2,171.8 C215.1,171.9 223.8,179.6 229.0,181.0 C234.2,182.5 236.6,181.7 239.4,180.5 C242.2,179.3 243.9,176.6 246.0,173.8 C248.1,171.0 250.9,165.4 251.9,163.7" fill="none" stroke="#D70B25" stroke-width="1.1" stroke-opacity="0.26" stroke-linejoin="round"/>
<path d="M20.8,229.1 C21.3,226.1 23.0,217.9 24.0,211.2 C25.0,204.5 24.9,194.6 27.0,189.0 C29.1,183.4 32.6,177.8 36.4,177.7 C40.2,177.6 45.7,186.5 50.0,188.3 C54.3,190.1 57.4,188.3 62.4,188.4 C67.4,188.6 74.1,189.4 80.0,189.3 C85.9,189.2 91.7,189.4 97.8,187.8 C103.9,186.3 109.6,182.7 116.6,180.0 C123.5,177.2 133.6,172.9 139.5,171.1 C145.4,169.4 148.1,169.2 152.0,169.6 C155.9,169.9 159.5,171.3 163.0,173.3 C166.5,175.3 168.8,180.2 172.8,181.4 C176.9,182.7 181.4,181.6 187.3,180.7 C193.2,179.8 201.2,175.6 208.2,175.9 C215.1,176.2 223.8,181.3 229.0,182.2 C234.2,183.1 236.6,182.5 239.4,181.3 C242.2,180.0 243.9,177.5 246.0,174.7 C248.1,172.0 250.9,166.4 251.9,164.8" fill="none" stroke="#D70B25" stroke-width="1.1" stroke-opacity="0.26" stroke-linejoin="round"/>
<path d="M20.8,189.3 C21.3,188.1 23.0,183.8 24.0,182.2 C25.0,180.6 24.9,180.5 27.0,179.7 C29.1,178.9 32.6,176.3 36.4,177.4 C40.2,178.4 45.7,184.6 50.0,185.9 C54.3,187.3 57.4,185.5 62.4,185.3 C67.4,185.1 74.1,185.5 80.0,184.7 C85.9,184.0 91.7,182.8 97.8,180.8 C103.9,178.7 109.6,174.1 116.6,172.3 C123.5,170.6 133.6,171.0 139.5,170.3 C145.4,169.6 148.1,167.9 152.0,168.2 C155.9,168.4 159.5,169.5 163.0,171.7 C166.5,173.9 168.8,179.1 172.8,181.2 C176.9,183.4 181.4,185.6 187.3,184.4 C193.2,183.3 201.2,175.1 208.2,174.1 C215.1,173.2 223.8,178.0 229.0,178.7 C234.2,179.3 236.6,178.9 239.4,178.1 C242.2,177.3 243.9,176.0 246.0,173.8 C248.1,171.6 250.9,166.4 251.9,164.9" fill="none" stroke="#D70B25" stroke-width="1.1" stroke-opacity="0.26" stroke-linejoin="round"/>
<path d="M20.8,192.2 C21.3,190.7 23.0,185.6 24.0,183.0 C25.0,180.4 24.9,178.5 27.0,176.6 C29.1,174.7 32.6,171.4 36.4,171.4 C40.2,171.4 45.7,175.9 50.0,176.6 C54.3,177.3 57.4,175.9 62.4,175.6 C67.4,175.2 74.1,174.8 80.0,174.5 C85.9,174.2 91.7,174.9 97.8,173.5 C103.9,172.1 109.6,168.4 116.6,166.2 C123.5,163.9 133.6,160.3 139.5,160.0 C145.4,159.7 148.1,162.3 152.0,164.1 C155.9,165.9 159.5,168.7 163.0,171.0 C166.5,173.3 168.8,177.1 172.8,177.7 C176.9,178.3 181.4,175.4 187.3,174.5 C193.2,173.6 201.2,171.9 208.2,172.4 C215.1,172.9 223.8,177.0 229.0,177.7 C234.2,178.4 236.6,177.9 239.4,176.6 C242.2,175.3 243.9,172.8 246.0,170.0 C248.1,167.2 250.9,161.7 251.9,160.0" fill="none" stroke="#D70B25" stroke-width="5.0" stroke-opacity="1.00" stroke-linejoin="round"/>
<line x1="9.9" y1="178.0" x2="262.0" y2="178.0" stroke="#000" stroke-width="4.7" stroke-dasharray="16.3 7.7"/>
<line x1="174.3" y1="142.9" x2="174.3" y2="236.6" stroke="#000" stroke-width="4.5"/>
<path d="M20.8,324.1 C21.3,321.3 22.6,313.5 24.0,307.7 C25.4,301.8 26.9,292.2 29.1,289.1 C31.4,286.1 33.7,288.1 37.5,289.5 C41.3,290.9 46.5,296.2 52.0,297.6 C57.5,298.9 63.8,297.2 70.8,297.7 C77.8,298.1 86.1,301.4 93.7,300.3 C101.3,299.2 110.4,293.5 116.6,291.0 C122.8,288.4 125.5,288.2 131.1,285.1 C136.7,282.0 145.4,273.9 149.9,272.5 C154.4,271.2 155.4,273.6 158.2,277.1 C161.0,280.5 164.1,286.9 166.5,293.3 C168.9,299.8 170.9,310.5 172.8,315.9 C174.7,321.3 175.6,324.8 178.0,325.8 C180.4,326.7 184.4,325.6 187.3,321.6 C190.2,317.7 193.1,307.5 195.7,302.1 C198.3,296.7 200.2,291.2 203.0,289.4 C205.8,287.5 209.0,289.7 212.3,290.9 C215.6,292.2 218.2,297.2 222.7,296.8 C227.2,296.3 234.5,290.1 239.4,288.4 C244.3,286.6 249.8,286.6 251.9,286.2" fill="none" stroke="#7566A6" stroke-width="1.1" stroke-opacity="0.28" stroke-linejoin="round"/>
<path d="M20.8,328.4 C21.3,325.7 22.6,317.8 24.0,312.0 C25.4,306.1 26.9,296.4 29.1,293.4 C31.4,290.4 33.7,292.4 37.5,293.9 C41.3,295.4 46.5,301.1 52.0,302.3 C57.5,303.5 63.8,301.2 70.8,301.1 C77.8,301.1 86.1,303.9 93.7,302.1 C101.3,300.3 110.4,294.0 116.6,290.1 C122.8,286.2 125.5,283.4 131.1,278.6 C136.7,273.8 145.4,262.0 149.9,261.4 C154.4,260.8 155.4,270.0 158.2,275.0 C161.0,280.0 164.1,285.1 166.5,291.5 C168.9,298.0 170.9,306.6 172.8,313.6 C174.7,320.5 175.6,330.8 178.0,333.1 C180.4,335.4 184.4,332.3 187.3,327.4 C190.2,322.5 193.1,310.0 195.7,303.8 C198.3,297.7 200.2,292.7 203.0,290.6 C205.8,288.4 209.0,289.9 212.3,290.9 C215.6,291.9 218.2,295.9 222.7,296.6 C227.2,297.4 234.5,296.0 239.4,295.5 C244.3,294.9 249.8,293.6 251.9,293.2" fill="none" stroke="#7566A6" stroke-width="1.1" stroke-opacity="0.28" stroke-linejoin="round"/>
<path d="M20.8,272.2 C21.3,272.1 22.6,267.8 24.0,271.2 C25.4,274.7 26.9,289.7 29.1,293.0 C31.4,296.4 33.7,291.6 37.5,291.4 C41.3,291.2 46.5,292.3 52.0,291.8 C57.5,291.3 63.8,289.2 70.8,288.4 C77.8,287.7 86.1,289.3 93.7,287.4 C101.3,285.4 110.4,277.2 116.6,276.5 C122.8,275.9 125.5,283.2 131.1,283.4 C136.7,283.7 145.4,279.8 149.9,278.1 C154.4,276.4 155.4,270.9 158.2,273.1 C161.0,275.3 164.1,284.1 166.5,291.3 C168.9,298.6 170.9,311.0 172.8,316.6 C174.7,322.2 175.6,324.4 178.0,324.8 C180.4,325.2 184.4,323.5 187.3,319.0 C190.2,314.6 193.1,303.8 195.7,298.1 C198.3,292.5 200.2,287.1 203.0,285.1 C205.8,283.1 209.0,284.7 212.3,285.9 C215.6,287.1 218.2,289.9 222.7,292.2 C227.2,294.5 234.5,298.8 239.4,299.9 C244.3,301.0 249.8,299.0 251.9,298.8" fill="none" stroke="#7566A6" stroke-width="1.1" stroke-opacity="0.28" stroke-linejoin="round"/>
<path d="M20.8,341.2 C21.3,337.8 22.6,329.0 24.0,320.6 C25.4,312.2 26.9,296.0 29.1,291.0 C31.4,286.1 33.7,289.7 37.5,291.0 C41.3,292.3 46.5,298.2 52.0,298.9 C57.5,299.6 63.8,295.8 70.8,295.3 C77.8,294.7 86.1,297.1 93.7,295.5 C101.3,294.0 110.4,287.0 116.6,286.1 C122.8,285.1 125.5,292.0 131.1,289.8 C136.7,287.5 145.4,274.7 149.9,272.4 C154.4,270.1 155.4,272.2 158.2,275.8 C161.0,279.4 164.1,286.9 166.5,294.0 C168.9,301.1 170.9,312.3 172.8,318.5 C174.7,324.7 175.6,330.6 178.0,331.1 C180.4,331.7 184.4,327.8 187.3,322.0 C190.2,316.3 193.1,302.6 195.7,296.5 C198.3,290.3 200.2,286.2 203.0,285.1 C205.8,284.0 209.0,287.9 212.3,289.9 C215.6,291.8 218.2,297.8 222.7,296.8 C227.2,295.7 234.5,285.0 239.4,283.7 C244.3,282.4 249.8,287.9 251.9,288.8" fill="none" stroke="#7566A6" stroke-width="1.1" stroke-opacity="0.28" stroke-linejoin="round"/>
<path d="M20.8,314.0 C21.3,311.7 22.6,304.4 24.0,300.1 C25.4,295.7 26.9,289.7 29.1,287.9 C31.4,286.0 33.7,287.3 37.5,288.9 C41.3,290.6 46.5,298.7 52.0,297.8 C57.5,296.9 63.8,285.1 70.8,283.5 C77.8,282.0 86.1,287.8 93.7,288.4 C101.3,289.0 110.4,288.4 116.6,287.3 C122.8,286.2 125.5,286.0 131.1,281.6 C136.7,277.1 145.4,259.8 149.9,260.5 C154.4,261.1 155.4,279.6 158.2,285.4 C161.0,291.2 164.1,291.1 166.5,295.1 C168.9,299.1 170.9,304.4 172.8,309.4 C174.7,314.4 175.6,323.3 178.0,325.2 C180.4,327.1 184.4,325.2 187.3,321.0 C190.2,316.8 193.1,305.7 195.7,300.0 C198.3,294.3 200.2,288.9 203.0,286.7 C205.8,284.6 209.0,286.1 212.3,287.1 C215.6,288.1 218.2,291.9 222.7,292.9 C227.2,293.9 234.5,293.8 239.4,293.3 C244.3,292.8 249.8,290.3 251.9,289.7" fill="none" stroke="#7566A6" stroke-width="1.1" stroke-opacity="0.28" stroke-linejoin="round"/>
<path d="M20.8,315.6 C21.3,313.5 22.6,306.5 24.0,303.0 C25.4,299.4 26.9,296.1 29.1,294.2 C31.4,292.4 33.7,292.1 37.5,291.9 C41.3,291.6 46.5,294.1 52.0,292.9 C57.5,291.7 63.8,285.2 70.8,284.8 C77.8,284.4 86.1,289.9 93.7,290.5 C101.3,291.1 110.4,289.5 116.6,288.3 C122.8,287.1 125.5,286.1 131.1,283.1 C136.7,280.1 145.4,270.0 149.9,270.3 C154.4,270.6 155.4,281.0 158.2,285.0 C161.0,288.9 164.1,290.1 166.5,294.1 C168.9,298.0 170.9,303.2 172.8,308.6 C174.7,314.0 175.6,324.3 178.0,326.6 C180.4,328.9 184.4,326.7 187.3,322.4 C190.2,318.0 193.1,306.6 195.7,300.6 C198.3,294.7 200.2,289.3 203.0,286.7 C205.8,284.2 209.0,284.8 212.3,285.5 C215.6,286.2 218.2,288.9 222.7,290.9 C227.2,293.0 234.5,298.4 239.4,297.8 C244.3,297.1 249.8,288.8 251.9,287.0" fill="none" stroke="#7566A6" stroke-width="1.1" stroke-opacity="0.28" stroke-linejoin="round"/>
<path d="M20.8,294.8 C21.3,293.4 22.6,287.5 24.0,286.6 C25.4,285.8 26.9,288.8 29.1,289.7 C31.4,290.5 33.7,289.8 37.5,291.9 C41.3,294.0 46.5,303.5 52.0,302.2 C57.5,300.8 63.8,285.9 70.8,283.7 C77.8,281.6 86.1,288.1 93.7,289.3 C101.3,290.6 110.4,291.4 116.6,291.1 C122.8,290.9 125.5,290.2 131.1,288.0 C136.7,285.7 145.4,278.8 149.9,277.8 C154.4,276.9 155.4,279.6 158.2,282.4 C161.0,285.2 164.1,289.6 166.5,294.7 C168.9,299.9 170.9,307.3 172.8,313.4 C174.7,319.4 175.6,328.8 178.0,331.1 C180.4,333.3 184.4,331.0 187.3,326.7 C190.2,322.3 193.1,311.1 195.7,304.9 C198.3,298.8 200.2,293.1 203.0,290.0 C205.8,286.9 209.0,286.1 212.3,286.3 C215.6,286.4 218.2,288.6 222.7,290.8 C227.2,293.1 234.5,298.7 239.4,299.7 C244.3,300.7 249.8,297.3 251.9,296.8" fill="none" stroke="#7566A6" stroke-width="1.1" stroke-opacity="0.28" stroke-linejoin="round"/>
<path d="M20.8,314.5 C21.3,312.4 22.6,305.5 24.0,302.0 C25.4,298.5 26.9,295.2 29.1,293.7 C31.4,292.1 33.7,292.2 37.5,292.7 C41.3,293.2 46.5,297.3 52.0,296.8 C57.5,296.3 63.8,290.4 70.8,289.5 C77.8,288.6 86.1,292.3 93.7,291.6 C101.3,290.9 110.4,286.3 116.6,285.4 C122.8,284.5 125.5,288.3 131.1,286.4 C136.7,284.5 145.4,275.1 149.9,273.9 C154.4,272.7 155.4,275.8 158.2,279.1 C161.0,282.4 164.1,287.8 166.5,293.7 C168.9,299.6 170.9,308.6 172.8,314.5 C174.7,320.4 175.6,327.6 178.0,329.0 C180.4,330.4 184.4,327.7 187.3,322.8 C190.2,317.9 193.1,305.8 195.7,299.9 C198.3,294.0 200.2,289.1 203.0,287.4 C205.8,285.7 209.0,288.1 212.3,289.5 C215.6,290.9 218.2,295.3 222.7,295.8 C227.2,296.3 234.5,293.6 239.4,292.7 C244.3,291.8 249.8,291.0 251.9,290.6" fill="none" stroke="#7566A6" stroke-width="5.0" stroke-opacity="1.00" stroke-linejoin="round"/>
<line x1="9.9" y1="296.8" x2="262.0" y2="296.8" stroke="#000" stroke-width="4.7" stroke-dasharray="16.3 7.7"/>
<line x1="174.3" y1="257.3" x2="174.3" y2="349.9" stroke="#000" stroke-width="4.5"/>
<rect x="64.2" y="355" width="38.4" height="5.6" fill="#000"/>
<line x1="9.9" y1="410.6" x2="262.0" y2="410.6" stroke="#000" stroke-width="4.7" stroke-dasharray="16.3 7.7"/>
<line x1="174.3" y1="369.8" x2="174.3" y2="464.1" stroke="#000" stroke-width="4.5"/>
<path d="M20.8,459.3 C21.5,455.0 23.6,441.1 25.0,433.3 C26.4,425.5 27.6,416.9 29.1,412.4 C30.7,407.9 32.6,406.7 34.3,406.2 C36.0,405.7 36.5,406.9 39.5,409.3 C42.5,411.7 48.2,419.6 52.0,420.8 C55.8,422.0 59.3,418.0 62.4,416.6 C65.5,415.2 65.9,413.4 70.8,412.4 C75.7,411.4 86.1,411.6 91.6,410.4 C97.1,409.2 98.8,407.6 104.0,405.2 C109.2,402.8 117.6,399.8 122.8,395.8 C128.0,391.8 131.1,385.0 135.3,381.2 C139.5,377.4 144.3,373.6 147.8,372.9 C151.3,372.2 153.0,373.3 156.1,377.1 C159.2,380.9 163.7,390.4 166.5,395.8 C169.3,401.2 170.4,406.2 172.8,409.3 C175.2,412.4 177.6,414.3 181.1,414.5 C184.6,414.7 189.1,412.1 193.6,410.4 C198.1,408.7 203.0,405.0 208.2,404.5 C213.4,404.0 219.6,406.5 224.8,407.2 C230.0,407.9 236.1,409.4 239.4,408.7 C242.7,408.0 242.5,406.1 244.6,403.1 C246.7,400.1 250.7,392.7 251.9,390.6" fill="none" stroke="#000000" stroke-width="4.5" stroke-opacity="1.00" stroke-linejoin="round"/>
<line x1="9.9" y1="497.5" x2="262.0" y2="497.5" stroke="#000" stroke-width="4.7" stroke-dasharray="16.3 7.7"/>
<line x1="174.3" y1="483.9" x2="174.3" y2="577.6" stroke="#000" stroke-width="4.5"/>
<path d="M20.8,520.4 C22.5,517.8 28.1,507.8 31.2,504.8 C34.3,501.9 36.0,502.5 39.5,502.7 C43.0,502.9 47.5,506.5 52.0,506.2 C56.5,505.9 61.4,500.2 66.6,500.6 C71.8,501.0 78.1,508.0 83.3,508.3 C88.5,508.6 92.2,503.6 97.8,502.7 C103.3,501.8 110.7,502.0 116.6,502.7 C122.5,503.4 128.3,507.7 133.2,506.8 C138.0,505.9 142.4,499.8 145.7,497.5 C149.0,495.2 150.6,492.2 153.0,492.9 C155.4,493.6 158.1,496.0 160.3,501.6 C162.6,507.2 164.4,517.2 166.5,526.6 C168.6,536.0 170.9,550.0 172.8,557.8 C174.7,565.6 176.3,571.7 178.0,573.4 C179.7,575.1 180.9,573.9 183.2,568.2 C185.4,562.5 189.1,549.2 191.5,539.1 C193.9,529.0 195.6,516.4 197.8,507.9 C200.1,499.4 202.6,490.5 205.0,488.1 C207.4,485.7 209.7,490.7 212.3,493.3 C214.9,495.9 217.8,503.2 220.6,503.7 C223.4,504.2 226.2,498.3 229.0,496.4 C231.8,494.5 234.9,491.8 237.3,492.3 C239.7,492.8 241.1,494.5 243.5,499.5 C245.9,504.5 250.5,518.6 251.9,522.4" fill="none" stroke="#000000" stroke-width="4.5" stroke-opacity="1.00" stroke-linejoin="round"/>
<line x1="9.9" y1="667.9" x2="262.0" y2="667.9" stroke="#000" stroke-width="4.7" stroke-dasharray="16.3 7.7"/>
<line x1="174.3" y1="597.0" x2="174.3" y2="691.4" stroke="#000" stroke-width="4.5"/>
<path d="M20.8,600.2 C21.5,605.6 23.6,621.8 25.0,632.4 C26.4,643.0 27.6,655.4 29.1,663.7 C30.7,672.0 32.6,678.8 34.3,682.4 C36.0,686.0 37.6,687.2 39.5,685.5 C41.4,683.8 43.0,676.5 45.8,672.0 C48.6,667.5 53.1,659.9 56.2,658.5 C59.3,657.1 61.4,661.1 64.5,663.7 C67.6,666.3 71.8,672.0 74.9,674.1 C78.0,676.2 79.5,676.6 83.3,676.2 C87.1,675.9 93.6,673.6 97.8,672.0 C102.0,670.4 104.4,666.4 108.2,666.8 C112.0,667.1 117.2,671.9 120.7,674.1 C124.2,676.4 126.3,680.3 129.1,680.3 C131.9,680.3 134.6,678.6 137.4,674.1 C140.2,669.6 142.6,658.7 145.7,653.3 C148.8,647.9 152.6,642.1 156.1,641.8 C159.6,641.4 163.4,647.2 166.5,651.2 C169.6,655.2 172.5,662.0 174.9,665.8 C177.3,669.6 178.7,672.2 181.1,674.1 C183.5,676.0 185.9,677.4 189.4,677.2 C192.9,677.0 197.4,674.9 201.9,673.0 C206.4,671.1 212.0,667.7 216.5,665.8 C221.0,663.9 225.2,661.4 229.0,661.6 C232.8,661.8 236.6,664.4 239.4,666.8 C242.2,669.2 243.5,672.6 245.6,676.2 C247.7,679.9 250.8,686.6 251.9,688.7" fill="none" stroke="#000000" stroke-width="4.5" stroke-opacity="1.00" stroke-linejoin="round"/>
<line x1="1.0" y1="1132.6" x2="253.0" y2="1132.6" stroke="#000" stroke-width="4.7" stroke-dasharray="16.3 7.7"/>
<line x1="165.1" y1="1092.3" x2="165.1" y2="1186.3" stroke="#000" stroke-width="4.5"/>
<path d="M11.4,1183.2 C12.1,1179.0 14.2,1165.8 15.6,1158.2 C17.0,1150.6 18.2,1142.3 19.8,1137.4 C21.4,1132.5 23.3,1129.7 25.0,1128.7 C26.7,1127.7 28.1,1129.4 30.2,1131.2 C32.3,1133.0 35.1,1137.6 37.5,1139.5 C39.9,1141.4 42.0,1142.8 44.8,1142.6 C47.6,1142.4 51.2,1139.8 54.1,1138.5 C57.0,1137.2 57.5,1136.0 62.4,1134.9 C67.3,1133.9 77.0,1133.9 83.3,1132.2 C89.5,1130.5 94.9,1127.2 99.9,1124.9 C104.9,1122.7 109.2,1121.5 113.4,1118.7 C117.6,1115.9 121.2,1112.0 124.9,1108.3 C128.6,1104.6 132.2,1098.7 135.3,1096.8 C138.4,1094.9 141.2,1095.8 143.6,1096.8 C146.0,1097.8 147.5,1099.8 149.9,1103.1 C152.3,1106.4 155.6,1111.9 158.2,1116.6 C160.8,1121.3 163.1,1127.8 165.5,1131.2 C167.9,1134.6 170.2,1136.3 172.8,1137.0 C175.4,1137.7 177.6,1136.8 181.1,1135.3 C184.6,1133.8 189.8,1129.5 193.6,1128.1 C197.4,1126.7 200.2,1126.8 204.0,1127.0 C207.8,1127.2 212.3,1128.4 216.5,1129.1 C220.7,1129.8 225.9,1131.9 229.0,1131.2 C232.1,1130.5 233.1,1127.9 235.2,1124.9 C237.3,1122.0 240.4,1115.4 241.5,1113.5" fill="none" stroke="#000000" stroke-width="4.5" stroke-opacity="1.00" stroke-linejoin="round"/>
<line x1="1.0" y1="1228.1" x2="253.0" y2="1228.1" stroke="#000" stroke-width="4.7" stroke-dasharray="16.3 7.7"/>
<line x1="165.1" y1="1206.2" x2="165.1" y2="1299.5" stroke="#000" stroke-width="4.5"/>
<path d="M12.5,1296.8 C13.2,1291.8 15.3,1276.5 16.7,1266.6 C18.1,1256.7 19.4,1244.0 20.8,1237.4 C22.2,1230.8 23.4,1228.0 25.0,1227.0 C26.6,1226.0 28.3,1228.1 30.2,1231.2 C32.1,1234.3 34.3,1240.6 36.4,1245.8 C38.5,1251.0 40.6,1259.1 42.7,1262.4 C44.8,1265.7 45.6,1265.8 48.9,1265.5 C52.2,1265.2 58.4,1261.1 62.4,1260.8 C66.4,1260.5 67.7,1260.9 72.9,1263.5 C78.1,1266.1 88.5,1275.4 93.7,1276.6 C98.9,1277.8 99.5,1275.2 104.0,1270.8 C108.5,1266.3 115.5,1255.8 120.7,1249.9 C125.9,1244.0 130.4,1240.4 135.3,1235.4 C140.2,1230.4 145.4,1224.2 149.9,1219.8 C154.4,1215.4 159.3,1210.9 162.4,1209.3 C165.5,1207.7 166.2,1209.1 168.6,1210.0 C171.0,1210.9 173.8,1212.1 176.9,1214.6 C180.0,1217.1 184.2,1222.4 187.3,1225.0 C190.4,1227.6 192.6,1229.3 195.7,1230.2 C198.8,1231.1 201.9,1230.7 206.1,1230.2 C210.2,1229.7 216.1,1227.3 220.6,1227.0 C225.1,1226.7 229.4,1228.1 233.1,1228.1 C236.8,1228.1 240.9,1227.2 242.5,1227.0" fill="none" stroke="#000000" stroke-width="4.5" stroke-opacity="1.00" stroke-linejoin="round"/>
<path d="M11.5 804.6V793.4H14.6V804.6M17.7 804.6V794.2H20.9V804.6M24.0 804.6V794.6H27.1V804.6M30.2 804.6V795.6H33.3V804.6M36.4 804.6V794.2H39.6V804.6M42.7 804.6V795.5H45.8V804.6M48.9 804.6V789.2H52.0V804.6M55.1 804.6V792.3H58.3V804.6M61.4 804.6V795.6H64.5V804.6M67.6 804.6V793.5H70.7V804.6M73.9 804.6V795.3H77.0V804.6M80.1 804.6V789.8H83.2V804.6M86.3 804.6V792.3H89.4V804.6M92.6 804.6V790.7H95.7V804.6M98.8 804.6V792.8H101.9V804.6M105.0 804.6V793.0H108.1V804.6M111.3 804.6V789.1H114.4V804.6M117.5 804.6V790.5H120.6V804.6M123.7 804.6V791.0H126.9V804.6M130.0 804.6V795.4H133.1V804.6M136.2 804.6V794.4H139.3V804.6M142.4 804.6V790.1H145.6V804.6M148.7 804.6V794.6H151.8V804.6M154.9 804.6V790.0H158.0V804.6M161.1 804.6V793.3H164.3V804.6M167.4 804.6V789.9H170.5V804.6" fill="none" stroke="#78B340" stroke-width="2.6"/>
<path d="M28.6 772.2V767.0H118.3V771.2M15.8 790.3V772.2H43.2V780.2M12.0 797.0V790.3H19.6V797.0M28.6 790.0V780.2H58.4V783.7M26.2 797.0V790.0H32.4V797.0M42.5 792.7V783.7H73.7V787.1M38.0 797.0V792.7H49.4V797.0M60.5 792.5V787.1H84.8V790.5M55.5 797.0V792.5H66.0V797.0M78.0 796.0V790.5H92.0V794.0M102.7 797.0V771.2H132.9V782.0M120.4 788.5V782.0H144.7V787.1M111.4 796.0V788.5H130.1V794.0M135.7 793.0V787.1H153.7V792.0M144.7 797.0V792.0H162.7V795.1M154.4 798.0V795.1H170.4V798.0" fill="none" stroke="#78B340" stroke-width="3.7" stroke-linejoin="miter" stroke-linecap="butt"/>
<path d="M173.2 804.6V790.2H176.2V804.6M179.2 804.6V788.5H182.2V804.6M185.3 804.6V793.5H188.3V804.6M191.3 804.6V787.7H194.3V804.6M197.3 804.6V792.4H200.3V804.6M203.4 804.6V790.7H206.4V804.6M209.4 804.6V787.6H212.4V804.6M215.4 804.6V792.1H218.4V804.6M221.5 804.6V787.4H224.5V804.6M227.5 804.6V804.6H227.5V804.6" fill="none" stroke="#D70B25" stroke-width="2.6"/>
<path d="M181.1 779.9V770.2H214.0V772.8M203.2 784.4V772.8H224.8V779.9M175.9 791.8V779.9H187.4V781.4M173.2 797.0V791.8H178.8V797.0M184.5 796.0V781.4H190.5V796.0M196.0 791.0V784.4H211.4V789.6M192.7 797.0V791.0H200.9V797.0M206.5 796.0V789.6H215.9V796.0M220.4 796.0V779.9H227.1V796.0" fill="none" stroke="#D70B25" stroke-width="3.7" stroke-linejoin="miter" stroke-linecap="butt"/>
<path d="M230.1 804.6V794.2H233.2V804.6M236.2 804.6V793.4H239.3V804.6M242.3 804.6V791.2H245.4V804.6M248.5 804.6V797.8H251.5V804.6M254.6 804.6V790.1H257.6V804.6M260.7 804.6V804.6H260.7V804.6" fill="none" stroke="#7566A6" stroke-width="2.6"/>
<path d="M232.7 778.8V751.1H247.3V769.4M230.1 796.0V778.8H236.8V796.0M240.2 797.8V769.4H252.9V777.3M247.3 798.0V777.3H257.8V789.6M254.4 797.0V789.6H260.7V797.0" fill="none" stroke="#7566A6" stroke-width="3.7" stroke-linejoin="miter" stroke-linecap="butt"/>
<path d="M73.3 767V715.2H218.6V746.6M197.5 770.2V746.6H240.2V751.1" fill="none" stroke="#000" stroke-width="4"/>
<circle cx="509.1" cy="473.6" r="9.4" fill="#78B340"/>
<circle cx="505.6" cy="481.6" r="9.4" fill="#78B340"/>
<circle cx="482.5" cy="528.3" r="9.4" fill="#78B340"/>
<circle cx="605.7" cy="539.7" r="9.4" fill="#78B340"/>
<circle cx="594.5" cy="559.5" r="9.4" fill="#78B340"/>
<circle cx="597.0" cy="557.5" r="9.4" fill="#78B340"/>
<path d="M513.9 374.5L521.9 387.6L513.9 400.7L505.9 387.6Z" fill="#78B340"/>
<path d="M492.6 397.1L500.6 410.2L492.6 423.3L484.6 410.2Z" fill="#78B340"/>
<path d="M479.0 535.9L487.0 549.0L479.0 562.1L471.0 549.0Z" fill="#78B340"/>
<path d="M513.2 545.9L521.2 559.0L513.2 572.1L505.2 559.0Z" fill="#78B340"/>
<path d="M521.0 567.9L529.0 581.0L521.0 594.1L513.0 581.0Z" fill="#78B340"/>
<path d="M559.7 589.4L567.7 602.5L559.7 615.6L551.7 602.5Z" fill="#78B340"/>
<path d="M346.5 348.3L364.9 366.7M346.5 366.7L364.9 348.3" stroke="#78B340" stroke-width="4.3" fill="none"/>
<path d="M366.6 362.5L385.0 380.9M366.6 380.9L385.0 362.5" stroke="#78B340" stroke-width="4.3" fill="none"/>
<path d="M465.3 399.7L483.7 418.1M465.3 418.1L483.7 399.7" stroke="#78B340" stroke-width="4.3" fill="none"/>
<path d="M407.7 430.2L426.1 448.6M407.7 448.6L426.1 430.2" stroke="#78B340" stroke-width="4.3" fill="none"/>
<path d="M453.8 464.8L472.2 483.2M453.8 483.2L472.2 464.8" stroke="#78B340" stroke-width="4.3" fill="none"/>
<path d="M447.9 496.9L466.3 515.3M447.9 515.3L466.3 496.9" stroke="#78B340" stroke-width="4.3" fill="none"/>
<path d="M505.2 517.6L523.6 536.0M505.2 536.0L523.6 517.6" stroke="#78B340" stroke-width="4.3" fill="none"/>
<path d="M622.0 546.3L640.4 564.7M622.0 564.7L640.4 546.3" stroke="#78B340" stroke-width="4.3" fill="none"/>
<path d="M507.3 557.8L525.7 576.2M507.3 576.2L525.7 557.8" stroke="#78B340" stroke-width="4.3" fill="none"/>
<path d="M563.3 553.8L581.7 572.2M563.3 572.2L581.7 553.8" stroke="#78B340" stroke-width="4.3" fill="none"/>
<path d="M562.3 561.8L580.7 580.2M562.3 580.2L580.7 561.8" stroke="#78B340" stroke-width="4.3" fill="none"/>
<path d="M507.3 572.8L525.7 591.2M507.3 591.2L525.7 572.8" stroke="#78B340" stroke-width="4.3" fill="none"/>
<path d="M511.8 588.8L530.2 607.2M511.8 607.2L530.2 588.8" stroke="#78B340" stroke-width="4.3" fill="none"/>
<path d="M579.6 600.8L598.0 619.2M579.6 619.2L598.0 600.8" stroke="#78B340" stroke-width="4.3" fill="none"/>
<path d="M649.5 589.5L667.9 607.9M649.5 607.9L667.9 589.5" stroke="#78B340" stroke-width="4.3" fill="none"/>
<path d="M550.8 628.3L569.2 646.7M550.8 646.7L569.2 628.3" stroke="#78B340" stroke-width="4.3" fill="none"/>
<path d="M622.5 649.5L640.9 667.9M622.5 667.9L640.9 649.5" stroke="#78B340" stroke-width="4.3" fill="none"/>
<path d="M649.5 668.8L667.9 687.2M649.5 687.2L667.9 668.8" stroke="#78B340" stroke-width="4.3" fill="none"/>
<path d="M670.8 644.5L689.2 662.9M670.8 662.9L689.2 644.5" stroke="#78B340" stroke-width="4.3" fill="none"/>
<path d="M689.5 643.8L707.9 662.2M689.5 662.2L707.9 643.8" stroke="#78B340" stroke-width="4.3" fill="none"/>
<path d="M703.3 726.3L721.7 744.7M703.3 744.7L721.7 726.3" stroke="#78B340" stroke-width="4.3" fill="none"/>
<path d="M699.0 390.3L717.4 408.7M699.0 408.7L717.4 390.3" stroke="#78B340" stroke-width="4.3" fill="none"/>
<path d="M870.7 230.1L878.7 243.2L870.7 256.3L862.7 243.2Z" fill="#7566A6"/>
<path d="M1053.0 61.9L1061.0 75.0L1053.0 88.1L1045.0 75.0Z" fill="#7566A6"/>
<path d="M1009.2 265.6L1017.2 278.7L1009.2 291.8L1001.2 278.7Z" fill="#7566A6"/>
<path d="M750.3 163.3L768.7 181.7M750.3 181.7L768.7 163.3" stroke="#7566A6" stroke-width="4.3" fill="none"/>
<path d="M973.3 300.3L991.7 318.7M973.3 318.7L991.7 300.3" stroke="#7566A6" stroke-width="4.3" fill="none"/>
<path d="M1100.8 353.3L1119.2 371.7M1100.8 371.7L1119.2 353.3" stroke="#7566A6" stroke-width="4.3" fill="none"/>
<path d="M1112.0 368.3L1130.4 386.7M1112.0 386.7L1130.4 368.3" stroke="#7566A6" stroke-width="4.3" fill="none"/>
<path d="M892.5 485.1L900.5 498.2L892.5 511.3L884.5 498.2Z" fill="#D70B25"/>
<path d="M880.7 572.6L888.7 585.7L880.7 598.8L872.7 585.7Z" fill="#D70B25"/>
<path d="M1005.0 498.8L1023.4 517.2M1005.0 517.2L1023.4 498.8" stroke="#D70B25" stroke-width="4.3" fill="none"/>
<path d="M977.0 569.5L995.4 587.9M977.0 587.9L995.4 569.5" stroke="#D70B25" stroke-width="4.3" fill="none"/>
<path d="M830.8 631.5L849.2 649.9M830.8 649.9L849.2 631.5" stroke="#D70B25" stroke-width="4.3" fill="none"/>
<path d="M873.3 643.3L891.7 661.7M873.3 661.7L891.7 643.3" stroke="#D70B25" stroke-width="4.3" fill="none"/>
<path d="M919.5 649.5L937.9 667.9M919.5 667.9L937.9 649.5" stroke="#D70B25" stroke-width="4.3" fill="none"/>
<path d="M998.8 661.3L1017.2 679.7M998.8 679.7L1017.2 661.3" stroke="#D70B25" stroke-width="4.3" fill="none"/>
<path d="M1112.0 684.2L1130.4 702.6M1112.0 702.6L1130.4 684.2" stroke="#D70B25" stroke-width="4.3" fill="none"/>
<path d="M922.5 702.0L940.9 720.4M922.5 720.4L940.9 702.0" stroke="#D70B25" stroke-width="4.3" fill="none"/>
<path d="M932.5 745.3L950.9 763.7M932.5 763.7L950.9 745.3" stroke="#D70B25" stroke-width="4.3" fill="none"/>
<path d="M1037.0 753.8L1055.4 772.2M1037.0 772.2L1055.4 753.8" stroke="#D70B25" stroke-width="4.3" fill="none"/>
<line x1="1002.3" y1="526.5" x2="1009.5" y2="515.4" stroke="#000" stroke-width="2.1"/>
<path d="M1012.5 510.8L1011.2 517.7L1006.7 514.8Z" fill="#000"/>
<line x1="699.0" y1="29.1" x2="699.0" y2="805.2" stroke="#000" stroke-width="4.3"/>
<line x1="312.3" y1="526.8" x2="1169.3" y2="526.8" stroke="#000" stroke-width="4.5"/>
<circle cx="473.3" cy="1090.8" r="9.4" fill="#78B340"/>
<circle cx="495.8" cy="1173.4" r="9.4" fill="#78B340"/>
<circle cx="596.7" cy="1160.1" r="9.4" fill="#78B340"/>
<circle cx="587.7" cy="1199.0" r="9.4" fill="#78B340"/>
<circle cx="500.5" cy="1312.2" r="9.4" fill="#78B340"/>
<circle cx="585.0" cy="1364.6" r="9.4" fill="#78B340"/>
<path d="M470.0 1573.1L478.0 1586.2L470.0 1599.3L462.0 1586.2Z" fill="#78B340"/>
<path d="M512.5 1641.9L520.5 1655.0L512.5 1668.1L504.5 1655.0Z" fill="#78B340"/>
<path d="M483.7 1685.6L491.7 1698.7L483.7 1711.8L475.7 1698.7Z" fill="#78B340"/>
<path d="M504.2 1680.6L512.2 1693.7L504.2 1706.8L496.2 1693.7Z" fill="#78B340"/>
<path d="M505.0 1736.9L513.0 1750.0L505.0 1763.1L497.0 1750.0Z" fill="#78B340"/>
<path d="M551.2 1765.6L559.2 1778.7L551.2 1791.8L543.2 1778.7Z" fill="#78B340"/>
<path d="M398.8 1499.5L417.2 1517.9M398.8 1517.9L417.2 1499.5" stroke="#78B340" stroke-width="4.3" fill="none"/>
<path d="M337.8 1565.0L356.2 1583.4M337.8 1583.4L356.2 1565.0" stroke="#78B340" stroke-width="4.3" fill="none"/>
<path d="M357.5 1557.0L375.9 1575.4M357.5 1575.4L375.9 1557.0" stroke="#78B340" stroke-width="4.3" fill="none"/>
<path d="M444.5 1555.8L462.9 1574.2M444.5 1574.2L462.9 1555.8" stroke="#78B340" stroke-width="4.3" fill="none"/>
<path d="M499.0 1549.5L517.4 1567.9M499.0 1567.9L517.4 1549.5" stroke="#78B340" stroke-width="4.3" fill="none"/>
<path d="M503.3 1570.3L521.7 1588.7M503.3 1588.7L521.7 1570.3" stroke="#78B340" stroke-width="4.3" fill="none"/>
<path d="M457.0 1600.8L475.4 1619.2M457.0 1619.2L475.4 1600.8" stroke="#78B340" stroke-width="4.3" fill="none"/>
<path d="M495.8 1661.3L514.2 1679.7M495.8 1679.7L514.2 1661.3" stroke="#78B340" stroke-width="4.3" fill="none"/>
<path d="M438.8 1666.5L457.2 1684.9M438.8 1684.9L457.2 1666.5" stroke="#78B340" stroke-width="4.3" fill="none"/>
<path d="M542.0 1660.0L560.4 1678.4M542.0 1678.4L560.4 1660.0" stroke="#78B340" stroke-width="4.3" fill="none"/>
<path d="M553.8 1657.0L572.2 1675.4M553.8 1675.4L572.2 1657.0" stroke="#78B340" stroke-width="4.3" fill="none"/>
<path d="M497.8 1695.8L516.2 1714.2M497.8 1714.2L516.2 1695.8" stroke="#78B340" stroke-width="4.3" fill="none"/>
<path d="M555.8 1742.5L574.2 1760.9M555.8 1760.9L574.2 1742.5" stroke="#78B340" stroke-width="4.3" fill="none"/>
<path d="M570.8 1755.8L589.2 1774.2M570.8 1774.2L589.2 1755.8" stroke="#78B340" stroke-width="4.3" fill="none"/>
<path d="M640.8 1558.8L659.2 1577.2M640.8 1577.2L659.2 1558.8" stroke="#78B340" stroke-width="4.3" fill="none"/>
<path d="M690.0 1587.0L708.4 1605.4M690.0 1605.4L708.4 1587.0" stroke="#78B340" stroke-width="4.3" fill="none"/>
<path d="M613.3 1602.8L631.7 1621.2M613.3 1621.2L631.7 1602.8" stroke="#78B340" stroke-width="4.3" fill="none"/>
<path d="M680.8 1612.8L699.2 1631.2M680.8 1631.2L699.2 1612.8" stroke="#78B340" stroke-width="4.3" fill="none"/>
<path d="M661.3 1631.5L679.7 1649.9M661.3 1649.9L679.7 1631.5" stroke="#78B340" stroke-width="4.3" fill="none"/>
<path d="M640.8 1685.3L659.2 1703.7M640.8 1703.7L659.2 1685.3" stroke="#78B340" stroke-width="4.3" fill="none"/>
<path d="M693.8 1683.3L712.2 1701.7M693.8 1701.7L712.2 1683.3" stroke="#78B340" stroke-width="4.3" fill="none"/>
<path d="M613.3 1730.8L631.7 1749.2M613.3 1749.2L631.7 1730.8" stroke="#78B340" stroke-width="4.3" fill="none"/>
<path d="M861.7 1341.1L869.7 1354.2L861.7 1367.3L853.7 1354.2Z" fill="#7566A6"/>
<path d="M1043.7 1505.1L1051.7 1518.2L1043.7 1531.3L1035.7 1518.2Z" fill="#7566A6"/>
<path d="M1000.0 1542.6L1008.0 1555.7L1000.0 1568.8L992.0 1555.7Z" fill="#7566A6"/>
<path d="M741.3 1663.3L759.7 1681.7M741.3 1681.7L759.7 1663.3" stroke="#7566A6" stroke-width="4.3" fill="none"/>
<path d="M1102.8 1627.5L1121.2 1645.9M1102.8 1645.9L1121.2 1627.5" stroke="#7566A6" stroke-width="4.3" fill="none"/>
<path d="M1092.0 1722.0L1110.4 1740.4M1092.0 1740.4L1110.4 1722.0" stroke="#7566A6" stroke-width="4.3" fill="none"/>
<path d="M964.5 1775.3L982.9 1793.7M964.5 1793.7L982.9 1775.3" stroke="#7566A6" stroke-width="4.3" fill="none"/>
<path d="M871.7 1217.4L879.7 1230.5L871.7 1243.6L863.7 1230.5Z" fill="#D70B25"/>
<path d="M883.2 1254.4L891.2 1267.5L883.2 1280.6L875.2 1267.5Z" fill="#D70B25"/>
<path d="M821.5 1426.3L839.9 1444.7M821.5 1444.7L839.9 1426.3" stroke="#D70B25" stroke-width="4.3" fill="none"/>
<path d="M864.0 1454.5L882.4 1472.9M864.0 1472.9L882.4 1454.5" stroke="#D70B25" stroke-width="4.3" fill="none"/>
<path d="M912.0 1487.8L930.4 1506.2M912.0 1506.2L930.4 1487.8" stroke="#D70B25" stroke-width="4.3" fill="none"/>
<path d="M910.0 1499.5L928.4 1517.9M910.0 1517.9L928.4 1499.5" stroke="#D70B25" stroke-width="4.3" fill="none"/>
<path d="M923.3 1506.8L941.7 1525.2M923.3 1525.2L941.7 1506.8" stroke="#D70B25" stroke-width="4.3" fill="none"/>
<path d="M968.3 1503.3L986.7 1521.7M968.3 1521.7L986.7 1503.3" stroke="#D70B25" stroke-width="4.3" fill="none"/>
<path d="M1103.3 1560.0L1121.7 1578.4M1103.3 1578.4L1121.7 1560.0" stroke="#D70B25" stroke-width="4.3" fill="none"/>
<path d="M990.0 1583.8L1008.4 1602.2M990.0 1602.2L1008.4 1583.8" stroke="#D70B25" stroke-width="4.3" fill="none"/>
<path d="M1027.8 1580.3L1046.2 1598.7M1027.8 1598.7L1046.2 1580.3" stroke="#D70B25" stroke-width="4.3" fill="none"/>
<path d="M995.8 1738.3L1014.2 1756.7M995.8 1756.7L1014.2 1738.3" stroke="#D70B25" stroke-width="4.3" fill="none"/>
<line x1="992.3" y1="1766.8" x2="1000.0" y2="1755.1" stroke="#000" stroke-width="2.1"/>
<path d="M1003.0 1750.5L1001.7 1757.4L997.2 1754.5Z" fill="#000"/>
<line x1="689.9" y1="1048.2" x2="689.9" y2="1824.4" stroke="#000" stroke-width="4.3"/>
<line x1="303.4" y1="1560.0" x2="1160.1" y2="1560.0" stroke="#000" stroke-width="4.5"/>
<rect x="288.50" y="845.20" width="16.50" height="2.40" fill="#000"/>
<rect x="542.55" y="845.20" width="16.50" height="2.40" fill="#000"/>
<rect x="1201.20" y="728.80" width="16.50" height="2.40" fill="#000"/>
<rect x="279.60" y="1864.10" width="16.50" height="2.40" fill="#000"/>
<rect x="533.65" y="1864.10" width="16.50" height="2.40" fill="#000"/>
<rect x="1192.00" y="1744.90" width="16.50" height="2.40" fill="#000"/>
<text x="5.20" y="33.20" font-size="43.39" font-weight="bold">a</text>
<text x="9.35" y="147.75" font-size="42.58" font-weight="bold">b</text>
<text x="13.20" y="269.10" font-size="38.15" font-weight="bold">c</text>
<text x="8.80" y="388.00" font-size="40.27" font-weight="bold">d</text>
<text x="9.75" y="487.25" font-size="42.81" font-weight="bold">e</text>
<text x="7.95" y="599.50" font-size="40.30" font-weight="bold">f</text>
<text x="9.80" y="736.25" font-size="42.87" font-weight="bold">g</text>
<text x="375.30" y="33.55" font-size="41.49" font-weight="bold">h</text>
<text x="14.70" y="1091.60" font-size="41.63" font-weight="bold">i</text>
<text x="14.40" y="1217.25" font-size="40.31" font-weight="bold">j</text>
<text x="358.70" y="1092.95" font-size="44.33" font-weight="bold">k</text>
<text x="47.50" y="343.70" font-size="31.01" font-weight="normal" textLength="68.60" lengthAdjust="spacing" stroke="#000" stroke-width="0.25">5 ms</text>
<text x="308.10" y="854.80" font-size="29.11" font-weight="normal" textLength="40.96" lengthAdjust="spacing" stroke="#000" stroke-width="0.25">0.6</text>
<text x="561.75" y="854.80" font-size="29.11" font-weight="normal" textLength="42.04" lengthAdjust="spacing" stroke="#000" stroke-width="0.25">0.2</text>
<text x="805.90" y="854.80" font-size="29.11" font-weight="normal" textLength="40.33" lengthAdjust="spacing" stroke="#000" stroke-width="0.25">0.2</text>
<text x="1060.10" y="854.80" font-size="29.11" font-weight="normal" textLength="40.02" lengthAdjust="spacing" stroke="#000" stroke-width="0.25">0.6</text>
<text x="1198.85" y="133.72" font-size="28.62" font-weight="normal" textLength="40.61" lengthAdjust="spacing" stroke="#000" stroke-width="0.25">0.4</text>
<text x="1199.00" y="334.90" font-size="28.24" font-weight="normal" textLength="40.11" lengthAdjust="spacing" stroke="#000" stroke-width="0.25">0.2</text>
<text x="1198.90" y="536.55" font-size="28.67" font-weight="normal" textLength="40.75" lengthAdjust="spacing" stroke="#000" stroke-width="0.25">0.0</text>
<text x="1220.40" y="738.60" font-size="29.11" font-weight="normal" textLength="40.61" lengthAdjust="spacing" stroke="#000" stroke-width="0.25">0.2</text>
<text x="299.05" y="1873.88" font-size="28.76" font-weight="normal" textLength="40.13" lengthAdjust="spacing" stroke="#000" stroke-width="0.25">0.6</text>
<text x="553.08" y="1873.88" font-size="28.76" font-weight="normal" textLength="40.66" lengthAdjust="spacing" stroke="#000" stroke-width="0.25">0.2</text>
<text x="796.55" y="1873.88" font-size="28.76" font-weight="normal" textLength="40.87" lengthAdjust="spacing" stroke="#000" stroke-width="0.25">0.2</text>
<text x="1050.50" y="1873.55" font-size="28.67" font-weight="normal" textLength="40.75" lengthAdjust="spacing" stroke="#000" stroke-width="0.25">0.6</text>
<text x="1190.07" y="1201.68" font-size="29.06" font-weight="normal" textLength="40.65" lengthAdjust="spacing" stroke="#000" stroke-width="0.25">0.4</text>
<text x="1189.70" y="1386.40" font-size="29.11" font-weight="normal" textLength="41.39" lengthAdjust="spacing" stroke="#000" stroke-width="0.25">0.2</text>
<text x="1189.67" y="1570.33" font-size="28.45" font-weight="normal" textLength="41.28" lengthAdjust="spacing" stroke="#000" stroke-width="0.25">0.0</text>
<text x="1210.80" y="1754.80" font-size="29.40" font-weight="normal" textLength="40.61" lengthAdjust="spacing" stroke="#000" stroke-width="0.25">0.2</text>
<text x="548.80" y="903.50" font-size="35.00" font-weight="normal" textLength="163.17" lengthAdjust="spacingAndGlyphs" stroke="#000" stroke-width="0.25">projection</text>
<text x="723.95" y="904.15" font-size="35.00" font-weight="normal" textLength="39.56" lengthAdjust="spacingAndGlyphs" stroke="#000" stroke-width="0.25">on</text>
<text x="774.40" y="904.30" font-size="35.00" font-weight="normal" textLength="43.36" lengthAdjust="spacingAndGlyphs" stroke="#000" stroke-width="0.25">PC</text>
<text x="829.25" y="904.20" font-size="35.00" font-weight="normal" stroke="#000" stroke-width="0.25">1</text>
<text x="549.30" y="1910.00" font-size="35.00" font-weight="normal" textLength="162.72" lengthAdjust="spacingAndGlyphs" stroke="#000" stroke-width="0.25">projection</text>
<text x="723.60" y="1911.30" font-size="35.00" font-weight="normal" textLength="40.59" lengthAdjust="spacingAndGlyphs" stroke="#000" stroke-width="0.25">on</text>
<text x="774.60" y="1911.30" font-size="35.00" font-weight="normal" textLength="46.09" lengthAdjust="spacingAndGlyphs" stroke="#000" stroke-width="0.25">PC</text>
<text x="830.50" y="1910.60" font-size="35.00" font-weight="normal" stroke="#000" stroke-width="0.25">1</text>
<text x="0" y="0" font-size="35.00" font-weight="normal" textLength="160.52" lengthAdjust="spacingAndGlyphs" stroke="#000" stroke-width="0.25" transform="translate(1289.00,537.70) rotate(-90)">projection</text>
<text x="0" y="0" font-size="35.00" font-weight="normal" textLength="39.60" lengthAdjust="spacingAndGlyphs" stroke="#000" stroke-width="0.25" transform="translate(1292.70,364.67) rotate(-90)">on</text>
<text x="0" y="0" font-size="35.00" font-weight="normal" textLength="41.71" lengthAdjust="spacingAndGlyphs" stroke="#000" stroke-width="0.25" transform="translate(1293.00,313.20) rotate(-90)">PC</text>
<text x="0" y="0" font-size="35.00" font-weight="normal" stroke="#000" stroke-width="0.25" transform="translate(1293.20,259.00) rotate(-90)">3</text>
<text x="0" y="0" font-size="35.00" font-weight="normal" textLength="162.13" lengthAdjust="spacingAndGlyphs" stroke="#000" stroke-width="0.25" transform="translate(1289.00,1627.75) rotate(-90)">projection</text>
<text x="0" y="0" font-size="35.00" font-weight="normal" textLength="39.67" lengthAdjust="spacingAndGlyphs" stroke="#000" stroke-width="0.25" transform="translate(1292.45,1453.78) rotate(-90)">on</text>
<text x="0" y="0" font-size="35.00" font-weight="normal" textLength="41.15" lengthAdjust="spacingAndGlyphs" stroke="#000" stroke-width="0.25" transform="translate(1292.40,1401.65) rotate(-90)">PC</text>
<text x="0" y="0" font-size="35.00" font-weight="normal" stroke="#000" stroke-width="0.25" transform="translate(1293.00,1348.13) rotate(-90)">2</text>
</svg>
</body></html>
